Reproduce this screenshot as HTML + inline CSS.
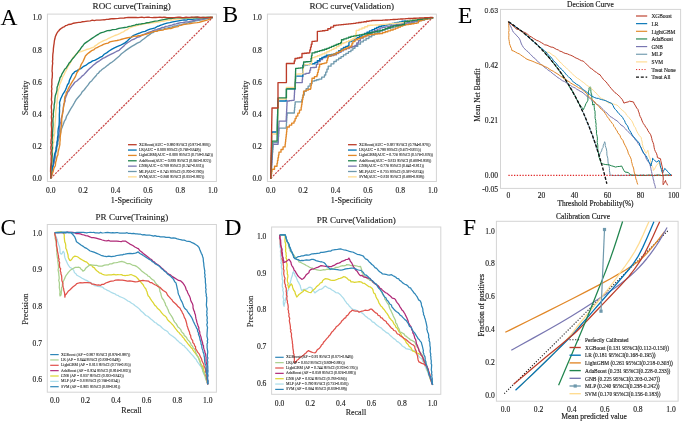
<!DOCTYPE html><html><head><meta charset="utf-8"><style>html,body{margin:0;padding:0;background:#fff;overflow:hidden}svg{display:block;will-change:transform}</style></head><body>
<svg width="685" height="423" viewBox="0 0 685 423">
<rect width="685" height="423" fill="#fff"/>
<text x="0.50" y="17.20" font-size="23.5" text-anchor="start" dominant-baseline="central" fill="#000" font-family="&quot;Liberation Serif&quot;, serif" stroke="#000" stroke-width="0.05">A</text>
<text x="222.50" y="13.80" font-size="23.5" text-anchor="start" dominant-baseline="central" fill="#000" font-family="&quot;Liberation Serif&quot;, serif" stroke="#000" stroke-width="0.05">B</text>
<text x="458.00" y="15.00" font-size="23.5" text-anchor="start" dominant-baseline="central" fill="#000" font-family="&quot;Liberation Serif&quot;, serif" stroke="#000" stroke-width="0.05">E</text>
<text x="0.50" y="226.70" font-size="23.5" text-anchor="start" dominant-baseline="central" fill="#000" font-family="&quot;Liberation Serif&quot;, serif" stroke="#000" stroke-width="0.05">C</text>
<text x="224.50" y="227.00" font-size="23.5" text-anchor="start" dominant-baseline="central" fill="#000" font-family="&quot;Liberation Serif&quot;, serif" stroke="#000" stroke-width="0.05">D</text>
<text x="463.00" y="226.80" font-size="23.5" text-anchor="start" dominant-baseline="central" fill="#000" font-family="&quot;Liberation Serif&quot;, serif" stroke="#000" stroke-width="0.05">F</text>
<rect x="47.40" y="14.10" width="169.00" height="167.40" fill="none" stroke="#d4d4d4" stroke-width="1.0"/>
<text x="131.70" y="6.30" font-size="9.1" text-anchor="middle" dominant-baseline="central" fill="#1a1a1a" font-family="&quot;Liberation Serif&quot;, serif" stroke="#1a1a1a" stroke-width="0.14">ROC curve(Training)</text>
<text x="50.70" y="190.00" font-size="7.6" text-anchor="middle" dominant-baseline="central" fill="#1a1a1a" font-family="&quot;Liberation Serif&quot;, serif" stroke="#1a1a1a" stroke-width="0.14">0.0</text>
<text x="41.90" y="178.80" font-size="7.6" text-anchor="end" dominant-baseline="central" fill="#1a1a1a" font-family="&quot;Liberation Serif&quot;, serif" stroke="#1a1a1a" stroke-width="0.14">0.0</text>
<text x="83.10" y="190.00" font-size="7.6" text-anchor="middle" dominant-baseline="central" fill="#1a1a1a" font-family="&quot;Liberation Serif&quot;, serif" stroke="#1a1a1a" stroke-width="0.14">0.2</text>
<text x="41.90" y="146.60" font-size="7.6" text-anchor="end" dominant-baseline="central" fill="#1a1a1a" font-family="&quot;Liberation Serif&quot;, serif" stroke="#1a1a1a" stroke-width="0.14">0.2</text>
<text x="115.50" y="190.00" font-size="7.6" text-anchor="middle" dominant-baseline="central" fill="#1a1a1a" font-family="&quot;Liberation Serif&quot;, serif" stroke="#1a1a1a" stroke-width="0.14">0.4</text>
<text x="41.90" y="114.40" font-size="7.6" text-anchor="end" dominant-baseline="central" fill="#1a1a1a" font-family="&quot;Liberation Serif&quot;, serif" stroke="#1a1a1a" stroke-width="0.14">0.4</text>
<text x="147.90" y="190.00" font-size="7.6" text-anchor="middle" dominant-baseline="central" fill="#1a1a1a" font-family="&quot;Liberation Serif&quot;, serif" stroke="#1a1a1a" stroke-width="0.14">0.6</text>
<text x="41.90" y="82.20" font-size="7.6" text-anchor="end" dominant-baseline="central" fill="#1a1a1a" font-family="&quot;Liberation Serif&quot;, serif" stroke="#1a1a1a" stroke-width="0.14">0.6</text>
<text x="180.30" y="190.00" font-size="7.6" text-anchor="middle" dominant-baseline="central" fill="#1a1a1a" font-family="&quot;Liberation Serif&quot;, serif" stroke="#1a1a1a" stroke-width="0.14">0.8</text>
<text x="41.90" y="50.00" font-size="7.6" text-anchor="end" dominant-baseline="central" fill="#1a1a1a" font-family="&quot;Liberation Serif&quot;, serif" stroke="#1a1a1a" stroke-width="0.14">0.8</text>
<text x="212.70" y="190.00" font-size="7.6" text-anchor="middle" dominant-baseline="central" fill="#1a1a1a" font-family="&quot;Liberation Serif&quot;, serif" stroke="#1a1a1a" stroke-width="0.14">1.0</text>
<text x="41.90" y="17.80" font-size="7.6" text-anchor="end" dominant-baseline="central" fill="#1a1a1a" font-family="&quot;Liberation Serif&quot;, serif" stroke="#1a1a1a" stroke-width="0.14">1.0</text>
<text x="131.70" y="200.40" font-size="8.1" text-anchor="middle" dominant-baseline="central" fill="#1a1a1a" font-family="&quot;Liberation Serif&quot;, serif" stroke="#1a1a1a" stroke-width="0.14">1-Specificity</text>
<text x="25.20" y="98.00" font-size="8.1" text-anchor="middle" dominant-baseline="central" fill="#1a1a1a" font-family="&quot;Liberation Serif&quot;, serif" transform="rotate(-90 25.20 98.00)" stroke="#1a1a1a" stroke-width="0.14">Sensitivity</text>
<path d="M50.70,178.40 L212.70,17.40" fill="none" stroke="#c84646" stroke-width="1.2" stroke-dasharray="2.1,1.1" stroke-linejoin="round" />
<path d="M50.70,178.40 L51.39,176.25 L51.62,174.02 L51.79,171.88 L52.21,169.86 L52.59,167.93 L53.20,166.10 L53.63,164.37 L54.18,162.67 L54.54,160.56 L54.96,158.63 L55.54,156.06 L55.55,154.03 L55.93,152.21 L56.77,149.83 L56.73,148.37 L57.10,145.91 L57.99,144.06 L57.87,142.27 L58.38,140.34 L58.86,138.77 L59.64,137.03 L59.77,135.19 L60.40,132.85 L60.89,130.81 L61.73,128.22 L62.25,127.26 L62.62,125.93 L63.22,124.42 L64.28,121.44 L65.69,119.22 L66.54,116.23 L67.82,114.10 L69.60,110.88 L70.87,108.57 L72.96,105.36 L74.59,102.46 L76.52,99.22 L78.85,96.52 L80.92,94.06 L82.27,91.70 L84.31,89.72 L86.27,87.11 L88.14,84.89 L89.63,82.56 L91.84,80.68 L93.18,78.90 L95.08,76.74 L96.28,75.47 L97.29,73.75 L98.30,73.29 L98.89,72.49 L99.51,71.75 L99.82,71.12 L100.76,70.77 L101.64,69.87 L102.67,68.95 L103.97,68.09 L104.93,67.45 L106.67,65.95 L108.19,64.90 L110.04,63.35 L112.20,62.02 L114.14,60.50 L116.41,58.50 L118.80,56.59 L121.21,53.94 L123.84,51.99 L126.24,50.14 L129.12,48.11 L131.77,46.43 L134.50,44.83 L137.26,43.18 L140.18,41.79 L142.56,39.81 L144.04,38.72 L145.94,37.20 L147.27,36.07 L148.94,35.05 L150.30,34.09 L151.60,32.92 L153.22,32.52 L154.88,31.30 L156.90,31.02 L158.44,29.94 L160.41,29.46 L161.94,29.09 L163.82,28.84 L165.67,28.12 L167.56,27.89 L169.47,27.44 L171.90,26.94 L173.99,26.00 L176.32,25.98 L178.16,25.10 L180.96,24.66 L183.62,24.06 L185.99,23.54 L188.56,22.68 L190.92,22.24 L193.28,21.51 L195.56,20.82 L197.36,20.68 L199.26,20.25 L201.62,19.81 L203.48,19.36 L204.85,18.99 L207.92,18.43 L210.65,17.63 L212.70,17.40" fill="none" stroke="#6F99AD" stroke-width="1.35" stroke-linejoin="round" />
<path d="M50.70,178.40 L51.34,176.24 L51.53,174.00 L51.66,171.84 L52.04,169.81 L52.38,167.87 L52.97,166.03 L53.35,164.29 L53.87,162.57 L54.18,160.45 L54.56,158.51 L55.09,155.93 L55.06,153.89 L55.40,152.06 L56.18,149.68 L56.09,148.23 L56.41,145.77 L57.24,143.92 L57.07,142.14 L57.49,140.23 L57.89,138.70 L58.58,137.00 L58.64,135.19 L59.07,133.00 L59.37,131.11 L59.77,128.95 L59.80,128.47 L59.64,127.62 L59.66,126.51 L60.13,123.82 L60.95,121.83 L61.15,119.04 L61.65,117.15 L62.47,114.26 L62.55,112.37 L63.23,109.64 L63.34,107.25 L63.73,104.58 L64.60,102.48 L65.18,100.72 L64.97,99.20 L65.49,98.05 L66.11,96.14 L66.92,94.39 L67.61,92.28 L69.19,90.45 L70.13,88.56 L71.90,86.14 L73.28,84.49 L74.89,82.21 L76.91,81.02 L78.72,79.36 L80.59,77.69 L82.00,76.12 L83.94,74.67 L85.88,72.49 L87.89,70.30 L89.99,68.34 L91.48,66.96 L93.49,65.07 L95.11,63.85 L96.82,62.37 L98.61,61.39 L99.89,60.50 L100.99,59.64 L101.72,59.35 L102.33,58.50 L103.36,58.21 L104.69,57.55 L107.28,56.12 L110.19,54.66 L113.37,53.10 L116.42,51.48 L119.12,50.32 L120.67,48.85 L122.39,47.34 L124.39,45.40 L125.85,43.89 L127.94,42.54 L129.94,41.25 L132.03,39.80 L134.50,39.00 L137.12,37.39 L140.11,36.52 L142.71,34.84 L145.77,33.61 L148.51,32.50 L151.65,31.45 L154.94,29.97 L156.59,29.58 L158.25,28.97 L160.40,28.38 L162.21,27.34 L164.11,27.32 L165.52,26.44 L167.78,26.05 L169.89,25.50 L171.79,25.06 L173.88,24.28 L176.11,23.91 L178.33,23.25 L180.97,22.59 L183.13,22.46 L185.66,22.02 L188.67,21.56 L191.17,21.09 L193.19,20.69 L195.24,20.43 L197.49,19.80 L199.28,19.42 L201.75,19.14 L203.16,18.82 L205.24,18.69 L208.09,18.02 L210.76,17.88 L212.70,17.40" fill="none" stroke="#7876B1" stroke-width="1.35" stroke-linejoin="round" />
<path d="M50.70,178.40 L51.41,175.45 L51.76,173.50 L51.78,171.92 L52.09,169.42 L52.34,167.43 L53.21,164.75 L53.07,162.72 L53.63,161.07 L53.85,159.13 L54.29,156.16 L54.76,154.10 L55.53,152.12 L56.21,149.92 L56.28,147.79 L57.02,145.28 L56.97,142.92 L57.52,140.31 L57.50,137.92 L58.04,134.98 L57.99,131.66 L58.33,128.37 L59.08,125.27 L59.29,121.44 L59.33,118.42 L59.31,114.82 L59.57,111.41 L59.46,108.17 L59.76,105.28 L59.53,102.44 L60.17,100.60 L60.57,99.30 L60.95,98.24 L61.59,96.94 L62.15,95.74 L62.94,94.05 L64.43,91.95 L65.54,89.73 L66.48,87.43 L67.49,84.76 L68.84,82.99 L69.46,80.26 L70.46,78.11 L71.46,76.02 L72.45,74.01 L73.93,72.85 L74.51,71.80 L75.87,71.24 L76.86,70.90 L78.45,69.61 L80.79,68.65 L83.11,66.66 L85.64,65.47 L88.23,63.41 L90.81,62.07 L92.57,60.91 L94.60,60.42 L96.16,59.57 L97.86,58.72 L99.95,57.36 L102.27,56.35 L104.17,54.28 L106.97,52.59 L109.08,51.02 L112.06,49.19 L114.41,47.88 L117.10,46.59 L120.04,45.48 L122.62,44.11 L124.89,42.83 L126.92,41.35 L128.74,39.44 L130.08,38.29 L131.88,36.63 L133.73,35.41 L135.52,34.56 L137.29,33.86 L139.01,33.26 L140.71,32.55 L142.56,31.97 L145.08,31.33 L147.47,30.05 L150.09,29.18 L152.42,28.53 L155.06,27.84 L157.26,26.46 L159.10,25.98 L160.86,25.11 L162.40,24.63 L164.44,23.78 L166.97,23.10 L169.76,22.60 L172.82,21.88 L175.47,21.35 L178.54,20.84 L182.28,20.16 L184.30,19.90 L186.39,20.14 L188.25,19.45 L189.96,19.11 L191.91,19.36 L194.20,19.14 L195.76,18.76 L197.76,18.62 L201.22,17.92 L204.95,17.98 L207.81,17.60 L210.87,17.79 L212.70,17.40" fill="none" stroke="#0072B5" stroke-width="1.35" stroke-linejoin="round" />
<path d="M50.70,178.40 L51.58,176.75 L51.96,174.69 L53.09,171.81 L53.87,168.41 L55.35,165.71 L55.66,162.19 L56.35,160.22 L56.61,158.44 L57.07,156.48 L57.94,154.69 L57.98,152.89 L58.26,151.36 L59.13,147.91 L59.86,144.68 L59.89,142.26 L60.21,139.86 L60.18,137.16 L60.44,135.10 L60.92,132.47 L60.86,130.33 L61.03,127.75 L61.43,125.63 L61.72,123.11 L61.66,120.15 L61.93,117.53 L62.39,114.36 L63.04,111.39 L63.32,108.51 L63.79,105.72 L64.29,102.67 L64.54,99.58 L64.84,96.91 L66.04,94.50 L66.30,92.40 L67.46,90.83 L68.15,89.03 L69.00,87.37 L70.40,84.79 L71.70,82.63 L73.74,79.39 L75.51,76.38 L76.69,73.21 L78.36,70.66 L80.08,67.81 L81.26,64.30 L83.02,61.49 L84.19,58.89 L85.39,56.09 L87.06,54.34 L88.78,52.84 L90.71,51.40 L92.28,50.29 L94.11,49.55 L95.52,48.14 L96.40,47.96 L97.62,47.36 L98.37,46.80 L100.22,46.00 L101.67,45.35 L103.48,44.31 L105.62,43.72 L107.99,43.08 L109.88,41.91 L112.03,41.38 L114.76,40.86 L116.97,40.48 L119.70,39.91 L121.72,39.25 L124.00,38.65 L126.67,38.01 L129.61,37.33 L131.49,37.07 L133.42,36.42 L135.31,36.08 L136.31,36.16 L137.02,36.37 L138.18,35.70 L140.01,35.55 L142.53,35.00 L145.35,34.34 L148.40,33.52 L151.74,32.18 L154.82,31.32 L156.87,31.42 L158.54,30.50 L160.52,30.39 L162.94,30.12 L164.50,29.27 L166.77,29.02 L168.93,28.60 L170.80,28.50 L174.05,27.25 L176.27,26.85 L178.11,26.64 L179.07,25.65 L181.00,25.39 L183.17,24.52 L186.49,24.06 L188.45,23.81 L190.61,23.46 L192.88,23.11 L194.66,22.84 L197.12,22.67 L199.01,22.33 L202.62,21.26 L205.17,20.59 L207.72,19.94 L209.47,19.03 L211.39,17.66 L212.70,17.40" fill="none" stroke="#E18727" stroke-width="1.35" stroke-linejoin="round" />
<path d="M50.70,178.40 L51.16,175.03 L51.10,172.55 L50.98,170.16 L51.13,168.18 L51.24,166.28 L51.59,164.49 L51.76,162.79 L52.06,161.11 L52.10,159.25 L52.28,156.97 L52.62,154.05 L52.40,152.00 L52.56,150.16 L53.22,147.70 L53.00,146.19 L53.19,143.75 L53.90,141.94 L53.59,140.27 L53.90,138.33 L54.32,135.12 L54.90,132.08 L54.73,129.27 L54.92,126.38 L54.98,123.71 L55.32,120.45 L55.59,117.46 L55.72,113.71 L55.71,112.15 L55.96,109.77 L56.50,108.26 L56.38,106.06 L56.58,104.81 L57.12,102.51 L57.15,99.51 L57.75,95.79 L57.87,92.37 L58.14,90.24 L58.88,88.48 L59.56,86.71 L59.50,84.93 L60.38,83.25 L61.23,80.85 L62.24,78.63 L62.88,76.29 L64.32,74.39 L64.97,72.47 L66.32,70.11 L67.23,68.35 L68.16,66.03 L69.39,64.63 L70.97,61.59 L72.42,59.00 L73.34,57.01 L74.80,55.65 L76.29,53.94 L77.94,52.60 L79.76,51.81 L81.08,51.62 L82.98,50.79 L84.54,50.40 L86.37,49.52 L88.51,49.00 L90.32,48.44 L92.23,47.60 L93.90,47.03 L95.15,45.78 L96.31,45.18 L97.14,44.50 L98.56,43.40 L99.99,42.48 L101.76,41.56 L103.70,40.59 L105.87,39.96 L107.55,38.96 L109.78,37.95 L112.54,36.52 L114.83,35.50 L117.50,34.58 L119.71,33.64 L121.66,32.47 L123.57,31.86 L125.31,30.38 L127.24,29.66 L128.78,28.19 L130.89,27.31 L132.80,26.66 L135.14,26.16 L137.55,25.25 L139.94,24.90 L142.34,24.36 L144.90,23.95 L146.91,23.19 L149.08,23.48 L151.27,22.84 L155.08,22.53 L157.56,22.19 L159.71,21.92 L161.56,21.39 L163.34,21.23 L165.11,20.77 L167.25,20.28 L168.93,20.33 L170.92,20.03 L173.44,19.74 L175.58,19.40 L177.23,19.14 L179.13,19.03 L181.24,18.56 L183.12,18.30 L185.77,18.22 L187.49,18.07 L189.88,18.10 L191.83,17.87 L194.15,18.08 L196.61,17.71 L198.60,17.53 L201.10,17.97 L202.76,17.56 L205.12,17.30 L206.72,17.55 L208.78,17.70 L210.57,17.36 L212.70,17.40" fill="none" stroke="#FFDC91" stroke-width="1.35" stroke-linejoin="round" />
<path d="M50.70,178.40 L51.14,175.03 L51.07,172.55 L50.93,170.16 L51.07,168.18 L51.17,166.28 L51.51,164.49 L51.64,162.79 L51.91,161.11 L51.93,159.25 L52.03,156.97 L52.29,154.05 L51.95,152.05 L51.97,150.26 L52.44,147.90 L52.03,146.48 L52.03,144.12 L52.54,142.38 L52.05,140.69 L52.19,138.72 L52.33,137.05 L52.75,135.21 L52.54,133.14 L52.72,130.86 L52.76,128.81 L52.98,126.45 L53.06,124.68 L52.95,122.36 L52.86,120.59 L53.01,118.01 L53.47,116.45 L53.26,114.19 L53.52,111.32 L54.15,107.65 L54.12,105.16 L54.75,101.97 L54.86,99.11 L55.29,95.81 L56.23,92.92 L56.98,90.16 L57.05,87.51 L57.85,85.29 L58.67,82.48 L59.51,80.11 L60.03,77.76 L61.27,75.99 L61.74,74.37 L62.95,72.39 L63.71,71.23 L64.65,69.32 L65.93,68.33 L66.99,66.71 L68.15,64.95 L68.92,63.35 L70.25,62.05 L71.51,60.19 L72.81,58.43 L74.20,56.92 L75.03,55.86 L76.40,54.13 L77.37,52.95 L78.52,51.34 L79.77,50.05 L80.61,48.70 L81.69,47.06 L82.93,45.70 L84.40,43.67 L86.59,42.15 L88.99,40.44 L91.98,38.36 L94.49,36.70 L96.47,35.43 L97.63,34.61 L98.31,34.53 L98.20,34.27 L98.74,34.01 L100.20,33.17 L101.56,32.57 L103.56,32.03 L105.43,31.46 L107.42,30.67 L109.82,30.52 L112.57,29.57 L115.93,29.37 L118.92,28.38 L122.17,27.85 L124.64,27.46 L127.00,27.13 L129.11,26.34 L130.99,26.06 L132.78,25.58 L134.93,25.17 L136.57,24.37 L138.04,24.64 L138.97,24.08 L140.79,23.98 L142.77,23.66 L144.69,23.37 L146.96,22.74 L149.36,22.46 L151.98,21.83 L155.09,21.14 L157.79,20.87 L160.84,20.16 L164.73,19.41 L166.86,19.02 L168.51,18.69 L170.99,18.55 L173.67,18.03 L175.93,17.87 L178.86,17.82 L180.86,17.70 L183.38,17.82 L185.28,17.63 L187.55,17.88 L189.96,17.55 L191.58,17.42 L193.73,17.89 L195.03,17.52 L197.34,17.28 L198.90,17.55 L201.09,17.72 L202.91,17.42 L204.78,17.54 L207.02,17.49 L208.74,17.17 L210.98,17.50 L212.70,17.40" fill="none" stroke="#20854E" stroke-width="1.35" stroke-linejoin="round" />
<path d="M50.70,178.40 L50.98,176.12 L50.80,173.76 L50.56,171.49 L50.62,169.39 L50.64,167.38 L50.91,165.47 L50.97,163.66 L51.17,161.88 L51.12,160.01 L51.13,158.31 L51.30,155.98 L50.91,154.19 L50.88,152.61 L51.33,150.32 L50.91,148.98 L50.89,146.64 L51.39,144.91 L50.89,143.24 L51.02,141.28 L51.12,139.69 L51.52,137.90 L51.27,136.00 L51.41,133.89 L51.41,132.07 L51.60,129.95 L51.62,128.44 L51.45,126.37 L51.29,124.77 L51.38,122.37 L51.74,120.51 L51.44,117.96 L51.43,116.33 L51.77,113.82 L51.40,112.32 L51.65,110.03 L51.33,108.11 L51.30,105.78 L51.72,103.83 L51.91,101.85 L51.38,99.87 L51.53,98.17 L51.66,95.58 L51.76,93.32 L51.48,90.94 L51.91,88.93 L51.55,86.90 L51.91,84.29 L51.82,82.31 L51.88,79.47 L52.23,77.55 L52.31,75.28 L52.40,73.01 L52.02,70.97 L52.17,69.54 L52.26,67.52 L52.40,65.51 L52.70,63.24 L52.46,61.34 L52.76,59.12 L52.67,57.46 L52.86,54.06 L53.27,51.31 L53.39,48.59 L53.75,45.67 L54.12,43.28 L54.43,40.46 L54.96,38.54 L55.28,36.78 L56.12,34.89 L56.74,33.48 L57.42,32.31 L58.14,31.27 L59.02,30.68 L59.38,29.84 L60.32,29.13 L61.73,28.08 L62.62,27.46 L63.95,26.93 L64.86,26.36 L65.66,25.59 L66.84,25.45 L68.41,24.50 L70.78,24.29 L73.43,23.23 L77.09,22.60 L78.72,22.43 L80.61,22.30 L82.44,21.73 L84.22,21.64 L87.42,21.14 L90.29,20.83 L92.29,20.21 L94.30,20.65 L96.28,20.20 L100.00,20.12 L102.47,19.92 L104.61,19.79 L106.45,19.37 L108.21,19.32 L109.97,18.98 L112.11,18.61 L113.78,18.78 L115.77,18.60 L118.31,18.42 L120.47,18.20 L122.14,18.05 L124.10,18.04 L126.26,17.67 L128.20,17.50 L130.69,17.49 L132.25,17.42 L134.47,17.52 L136.03,17.36 L137.96,17.63 L140.03,17.32 L141.78,17.20 L144.05,17.69 L145.47,17.33 L148.14,17.12 L150.05,17.41 L152.42,17.60 L154.14,17.32 L155.91,17.46 L158.05,17.43 L159.83,17.12 L162.20,17.47 L164.03,17.16 L166.33,17.52 L168.05,17.65 L169.91,17.56 L171.82,17.55 L174.38,17.66 L176.24,17.33 L178.15,17.24 L179.98,17.24 L182.35,17.57 L184.39,17.46 L186.14,17.24 L187.98,17.30 L190.12,17.36 L192.25,17.10 L194.53,17.16 L196.40,17.09 L198.59,17.28 L200.64,17.49 L203.32,17.31 L205.38,17.66 L207.00,17.37 L209.08,17.65 L210.66,17.16 L212.70,17.40" fill="none" stroke="#BC3C29" stroke-width="1.35" stroke-linejoin="round" />
<path d="M128.00,144.70 L136.70,144.70" fill="none" stroke="#BC3C29" stroke-width="1.3" stroke-linejoin="round" />
<text x="138.90" y="144.70" font-size="3.83" text-anchor="start" dominant-baseline="central" fill="#1a1a1a" font-family="&quot;Liberation Serif&quot;, serif" stroke="#1a1a1a" stroke-width="0.07">XGBoost(AUC = 0.980 95%CI (0.973-0.988))</text>
<path d="M128.00,150.06 L136.70,150.06" fill="none" stroke="#0072B5" stroke-width="1.3" stroke-linejoin="round" />
<text x="138.90" y="150.06" font-size="3.83" text-anchor="start" dominant-baseline="central" fill="#1a1a1a" font-family="&quot;Liberation Serif&quot;, serif" stroke="#1a1a1a" stroke-width="0.07">LR(AUC = 0.808 95%CI (0.768-0.849))</text>
<path d="M128.00,155.42 L136.70,155.42" fill="none" stroke="#E18727" stroke-width="1.3" stroke-linejoin="round" />
<text x="138.90" y="155.42" font-size="3.83" text-anchor="start" dominant-baseline="central" fill="#1a1a1a" font-family="&quot;Liberation Serif&quot;, serif" stroke="#1a1a1a" stroke-width="0.07">LightGBM(AUC = 0.808 95%CI (0.759-0.842))</text>
<path d="M128.00,160.78 L136.70,160.78" fill="none" stroke="#20854E" stroke-width="1.3" stroke-linejoin="round" />
<text x="138.90" y="160.78" font-size="3.83" text-anchor="start" dominant-baseline="central" fill="#1a1a1a" font-family="&quot;Liberation Serif&quot;, serif" stroke="#1a1a1a" stroke-width="0.07">AdaBoost(AUC = 0.893 95%CI (0.863-0.922))</text>
<path d="M128.00,166.14 L136.70,166.14" fill="none" stroke="#7876B1" stroke-width="1.3" stroke-linejoin="round" />
<text x="138.90" y="166.14" font-size="3.83" text-anchor="start" dominant-baseline="central" fill="#1a1a1a" font-family="&quot;Liberation Serif&quot;, serif" stroke="#1a1a1a" stroke-width="0.07">GNB(AUC = 0.789 95%CI (0.747-0.831))</text>
<path d="M128.00,171.50 L136.70,171.50" fill="none" stroke="#6F99AD" stroke-width="1.3" stroke-linejoin="round" />
<text x="138.90" y="171.50" font-size="3.83" text-anchor="start" dominant-baseline="central" fill="#1a1a1a" font-family="&quot;Liberation Serif&quot;, serif" stroke="#1a1a1a" stroke-width="0.07">MLP(AUC = 0.745 95%CI (0.700-0.790))</text>
<path d="M128.00,176.86 L136.70,176.86" fill="none" stroke="#FFDC91" stroke-width="1.3" stroke-linejoin="round" />
<text x="138.90" y="176.86" font-size="3.83" text-anchor="start" dominant-baseline="central" fill="#1a1a1a" font-family="&quot;Liberation Serif&quot;, serif" stroke="#1a1a1a" stroke-width="0.07">SVM(AUC = 0.868 95%CI (0.833-0.902))</text>
<rect x="267.40" y="14.10" width="169.00" height="167.40" fill="none" stroke="#d4d4d4" stroke-width="1.0"/>
<text x="351.70" y="6.30" font-size="9.1" text-anchor="middle" dominant-baseline="central" fill="#1a1a1a" font-family="&quot;Liberation Serif&quot;, serif" stroke="#1a1a1a" stroke-width="0.14">ROC curve(Validation)</text>
<text x="270.70" y="190.00" font-size="7.6" text-anchor="middle" dominant-baseline="central" fill="#1a1a1a" font-family="&quot;Liberation Serif&quot;, serif" stroke="#1a1a1a" stroke-width="0.14">0.0</text>
<text x="261.90" y="178.80" font-size="7.6" text-anchor="end" dominant-baseline="central" fill="#1a1a1a" font-family="&quot;Liberation Serif&quot;, serif" stroke="#1a1a1a" stroke-width="0.14">0.0</text>
<text x="303.10" y="190.00" font-size="7.6" text-anchor="middle" dominant-baseline="central" fill="#1a1a1a" font-family="&quot;Liberation Serif&quot;, serif" stroke="#1a1a1a" stroke-width="0.14">0.2</text>
<text x="261.90" y="146.60" font-size="7.6" text-anchor="end" dominant-baseline="central" fill="#1a1a1a" font-family="&quot;Liberation Serif&quot;, serif" stroke="#1a1a1a" stroke-width="0.14">0.2</text>
<text x="335.50" y="190.00" font-size="7.6" text-anchor="middle" dominant-baseline="central" fill="#1a1a1a" font-family="&quot;Liberation Serif&quot;, serif" stroke="#1a1a1a" stroke-width="0.14">0.4</text>
<text x="261.90" y="114.40" font-size="7.6" text-anchor="end" dominant-baseline="central" fill="#1a1a1a" font-family="&quot;Liberation Serif&quot;, serif" stroke="#1a1a1a" stroke-width="0.14">0.4</text>
<text x="367.90" y="190.00" font-size="7.6" text-anchor="middle" dominant-baseline="central" fill="#1a1a1a" font-family="&quot;Liberation Serif&quot;, serif" stroke="#1a1a1a" stroke-width="0.14">0.6</text>
<text x="261.90" y="82.20" font-size="7.6" text-anchor="end" dominant-baseline="central" fill="#1a1a1a" font-family="&quot;Liberation Serif&quot;, serif" stroke="#1a1a1a" stroke-width="0.14">0.6</text>
<text x="400.30" y="190.00" font-size="7.6" text-anchor="middle" dominant-baseline="central" fill="#1a1a1a" font-family="&quot;Liberation Serif&quot;, serif" stroke="#1a1a1a" stroke-width="0.14">0.8</text>
<text x="261.90" y="50.00" font-size="7.6" text-anchor="end" dominant-baseline="central" fill="#1a1a1a" font-family="&quot;Liberation Serif&quot;, serif" stroke="#1a1a1a" stroke-width="0.14">0.8</text>
<text x="432.70" y="190.00" font-size="7.6" text-anchor="middle" dominant-baseline="central" fill="#1a1a1a" font-family="&quot;Liberation Serif&quot;, serif" stroke="#1a1a1a" stroke-width="0.14">1.0</text>
<text x="261.90" y="17.80" font-size="7.6" text-anchor="end" dominant-baseline="central" fill="#1a1a1a" font-family="&quot;Liberation Serif&quot;, serif" stroke="#1a1a1a" stroke-width="0.14">1.0</text>
<text x="351.70" y="200.40" font-size="8.1" text-anchor="middle" dominant-baseline="central" fill="#1a1a1a" font-family="&quot;Liberation Serif&quot;, serif" stroke="#1a1a1a" stroke-width="0.14">1-Specificity</text>
<text x="245.20" y="98.00" font-size="8.1" text-anchor="middle" dominant-baseline="central" fill="#1a1a1a" font-family="&quot;Liberation Serif&quot;, serif" transform="rotate(-90 245.20 98.00)" stroke="#1a1a1a" stroke-width="0.14">Sensitivity</text>
<path d="M270.70,178.40 L432.70,17.40" fill="none" stroke="#c84646" stroke-width="1.2" stroke-dasharray="2.1,1.1" stroke-linejoin="round" />
<path d="M270.70,178.40 L270.86,178.40 L270.86,175.82 L271.02,175.82 L271.02,173.25 L271.19,173.25 L271.19,170.67 L271.35,170.67 L271.35,168.10 L271.51,168.10 L271.51,165.52 L271.67,165.52 L271.67,162.94 L271.83,162.94 L271.83,160.37 L272.00,160.37 L272.00,157.79 L272.16,157.79 L272.16,155.22 L272.32,155.22 L272.32,152.64 L272.48,152.64 L272.48,150.06 L272.64,150.06 L272.64,147.49 L272.81,147.49 L272.81,144.91 L272.97,144.91 L272.97,142.34 L277.99,142.34 L278.18,142.34 L278.18,139.50 L278.38,139.50 L278.38,136.67 L278.57,136.67 L278.57,133.84 L278.77,133.84 L278.77,131.00 L278.96,131.00 L278.96,128.17 L286.09,128.17 L286.25,128.17 L286.25,125.65 L286.41,125.65 L286.41,123.12 L286.58,123.12 L286.58,120.60 L286.74,120.60 L286.74,118.08 L286.90,118.08 L286.90,115.56 L287.06,115.56 L287.06,113.03 L294.03,113.03 L294.31,113.03 L294.31,110.26 L294.59,110.26 L294.59,107.48 L294.88,107.48 L294.88,104.70 L295.16,104.70 L295.16,101.93 L301.16,101.93 L301.80,101.93 L301.80,99.62 L302.45,99.62 L302.45,97.31 L303.10,97.31 L303.10,95.00 L304.23,95.00 L304.23,91.14 L306.18,91.14 L306.18,88.64 L308.12,88.64 L308.12,86.15 L310.07,86.15 L310.07,83.65 L312.01,83.65 L312.01,81.16 L314.33,81.16 L314.33,80.46 L316.65,80.46 L316.65,79.76 L318.98,79.76 L318.98,79.06 L321.73,79.06 L321.73,77.05 L324.48,77.05 L324.48,75.04 L325.73,75.04 L325.73,72.09 L326.97,72.09 L326.97,69.13 L328.21,69.13 L328.21,66.18 L331.04,66.18 L331.04,63.85 L333.88,63.85 L333.88,61.51 L336.27,61.51 L336.27,59.86 L338.66,59.86 L338.66,58.21 L341.05,58.21 L341.05,56.56 L343.44,56.56 L343.44,54.91 L345.92,54.91 L345.92,53.30 L348.41,53.30 L348.41,51.69 L350.89,51.69 L350.89,50.08 L352.91,50.08 L352.91,48.23 L354.94,48.23 L354.94,46.38 L357.69,46.38 L357.69,44.13 L360.45,44.13 L360.45,41.87 L363.27,41.87 L363.27,40.17 L366.09,40.17 L366.09,38.46 L368.90,38.46 L368.90,36.75 L371.72,36.75 L371.72,35.05 L374.54,35.05 L374.54,33.34 L377.17,33.34 L377.17,32.25 L379.81,32.25 L379.81,31.17 L382.44,31.17 L382.44,30.08 L385.07,30.08 L385.07,28.99 L387.72,28.99 L387.72,28.35 L390.36,28.35 L390.36,27.70 L393.01,27.70 L393.01,27.06 L395.66,27.06 L395.66,26.42 L398.30,26.42 L398.30,25.77 L400.95,25.77 L400.95,25.13 L403.59,25.13 L403.59,24.48 L406.24,24.48 L406.24,23.84 L408.89,23.84 L408.89,23.20 L411.53,23.20 L411.53,22.55 L414.18,22.55 L414.18,21.91 L416.82,21.91 L416.82,21.26 L419.47,21.26 L419.47,20.62 L422.12,20.62 L422.12,19.98 L424.76,19.98 L424.76,19.33 L427.41,19.33 L427.41,18.69 L430.05,18.69 L430.05,18.04 L432.70,18.04 L432.70,17.40" fill="none" stroke="#6F99AD" stroke-width="1.35" stroke-linejoin="round" />
<path d="M270.70,178.40 L270.87,178.40 L270.87,175.77 L271.05,175.77 L271.05,173.15 L271.22,173.15 L271.22,170.52 L271.40,170.52 L271.40,167.90 L271.57,167.90 L271.57,165.27 L271.75,165.27 L271.75,162.65 L271.92,162.65 L271.92,160.02 L272.10,160.02 L272.10,157.40 L272.27,157.40 L272.27,154.77 L272.44,154.77 L272.44,152.14 L272.62,152.14 L272.62,149.52 L272.79,149.52 L272.79,146.89 L272.97,146.89 L272.97,144.27 L277.99,144.27 L278.10,144.27 L278.10,141.69 L278.21,141.69 L278.21,139.12 L278.31,139.12 L278.31,136.54 L278.42,136.54 L278.42,133.96 L278.53,133.96 L278.53,131.39 L278.64,131.39 L278.64,128.81 L278.75,128.81 L278.75,126.24 L278.85,126.24 L278.85,123.66 L278.96,123.66 L278.96,121.08 L286.09,121.08 L286.21,121.08 L286.21,118.57 L286.33,118.57 L286.33,116.05 L286.45,116.05 L286.45,113.54 L286.58,113.54 L286.58,111.02 L286.70,111.02 L286.70,108.51 L286.82,108.51 L286.82,105.99 L286.94,105.99 L286.94,103.47 L287.06,103.47 L287.06,100.96 L289.38,100.96 L289.38,100.64 L291.71,100.64 L291.71,100.31 L294.03,100.31 L294.03,99.99 L294.17,99.99 L294.17,97.51 L294.31,97.51 L294.31,95.03 L294.44,95.03 L294.44,92.54 L294.58,92.54 L294.58,90.06 L294.72,90.06 L294.72,87.57 L294.86,87.57 L294.86,85.09 L295.00,85.09 L295.00,82.61 L301.97,82.61 L302.24,82.61 L302.24,79.76 L302.51,79.76 L302.51,76.92 L302.78,76.92 L302.78,74.07 L305.94,74.07 L305.94,73.35 L309.09,73.35 L309.09,72.62 L309.82,72.62 L309.82,70.13 L310.55,70.13 L310.55,67.63 L312.74,67.63 L312.74,67.47 L314.93,67.47 L314.93,67.31 L316.38,67.31 L316.38,64.41 L317.84,64.41 L317.84,61.51 L320.19,61.51 L320.19,59.58 L322.54,59.58 L322.54,57.65 L325.38,57.65 L325.38,56.97 L328.21,56.97 L328.21,56.28 L331.05,56.28 L331.05,55.60 L333.88,55.60 L333.88,54.91 L336.27,54.91 L336.27,53.58 L338.66,53.58 L338.66,52.26 L341.05,52.26 L341.05,50.93 L343.44,50.93 L343.44,49.60 L346.31,49.60 L346.31,48.55 L349.19,48.55 L349.19,47.51 L352.06,47.51 L352.06,46.46 L354.94,46.46 L354.94,45.41 L356.78,45.41 L356.78,43.00 L358.61,43.00 L358.61,40.58 L360.45,40.58 L360.45,38.17 L363.27,38.17 L363.27,36.62 L366.09,36.62 L366.09,35.08 L368.90,35.08 L368.90,33.53 L371.72,33.53 L371.72,31.99 L374.54,31.99 L374.54,30.44 L377.30,30.44 L377.30,29.15 L380.05,29.15 L380.05,27.87 L382.68,27.87 L382.68,27.34 L385.31,27.34 L385.31,26.82 L387.95,26.82 L387.95,26.30 L390.58,26.30 L390.58,25.77 L393.21,25.77 L393.21,25.25 L395.84,25.25 L395.84,24.73 L398.48,24.73 L398.48,24.20 L401.11,24.20 L401.11,23.68 L403.74,23.68 L403.74,23.16 L406.37,23.16 L406.37,22.63 L409.01,22.63 L409.01,22.11 L411.64,22.11 L411.64,21.59 L414.27,21.59 L414.27,21.06 L416.90,21.06 L416.90,20.54 L419.54,20.54 L419.54,20.02 L422.17,20.02 L422.17,19.49 L424.80,19.49 L424.80,18.97 L427.43,18.97 L427.43,18.45 L430.07,18.45 L430.07,17.92 L432.70,17.92 L432.70,17.40" fill="none" stroke="#7876B1" stroke-width="1.35" stroke-linejoin="round" />
<path d="M270.70,178.40 L270.77,178.40 L270.77,175.82 L270.84,175.82 L270.84,173.25 L270.92,173.25 L270.92,170.67 L270.99,170.67 L270.99,168.10 L271.06,168.10 L271.06,165.52 L271.13,165.52 L271.13,162.94 L271.20,162.94 L271.20,160.37 L271.28,160.37 L271.28,157.79 L271.35,157.79 L271.35,155.22 L271.42,155.22 L271.42,152.64 L271.49,152.64 L271.49,150.06 L271.56,150.06 L271.56,147.49 L271.64,147.49 L271.64,144.91 L271.71,144.91 L271.71,142.34 L271.78,142.34 L271.78,139.76 L271.85,139.76 L271.85,137.18 L271.92,137.18 L271.92,134.61 L272.00,134.61 L272.00,132.03 L277.02,132.03 L277.10,132.03 L277.10,129.44 L277.18,129.44 L277.18,126.85 L277.26,126.85 L277.26,124.26 L277.34,124.26 L277.34,121.67 L277.42,121.67 L277.42,119.08 L277.50,119.08 L277.50,116.50 L277.59,116.50 L277.59,113.91 L277.67,113.91 L277.67,111.32 L277.75,111.32 L277.75,108.73 L277.83,108.73 L277.83,106.14 L277.91,106.14 L277.91,103.55 L277.99,103.55 L277.99,100.96 L286.09,100.96 L286.15,100.96 L286.15,98.54 L286.22,98.54 L286.22,96.13 L286.28,96.13 L286.28,93.71 L286.35,93.71 L286.35,91.30 L286.41,91.30 L286.41,88.88 L295.00,88.88 L295.13,88.88 L295.13,86.34 L295.26,86.34 L295.26,83.80 L295.39,83.80 L295.39,81.25 L295.52,81.25 L295.52,78.71 L295.65,78.71 L295.65,76.16 L302.78,76.17 L302.78,65.54 L305.08,65.54 L305.08,65.10 L307.39,65.10 L307.39,64.65 L309.70,64.65 L309.70,64.21 L312.01,64.21 L312.01,63.77 L314.93,63.77 L314.93,62.48 L317.27,62.48 L317.27,60.55 L319.62,60.55 L319.62,58.62 L321.84,58.62 L321.84,57.49 L324.05,57.49 L324.05,56.36 L326.27,56.36 L326.27,55.23 L328.80,55.23 L328.80,54.81 L331.34,54.81 L331.34,54.38 L333.88,54.38 L333.88,53.95 L336.27,53.95 L336.27,52.30 L338.66,52.30 L338.66,50.65 L341.05,50.65 L341.05,49.00 L343.44,49.00 L343.44,47.35 L345.79,47.35 L345.79,46.38 L348.14,46.38 L348.14,45.41 L348.95,45.41 L348.95,41.55 L351.94,41.55 L351.94,40.18 L354.94,40.18 L354.94,38.81 L357.26,38.81 L357.26,37.47 L359.58,37.47 L359.58,36.13 L361.91,36.13 L361.91,34.79 L364.43,34.79 L364.43,33.50 L366.96,33.50 L366.96,32.21 L369.49,32.21 L369.49,30.92 L372.01,30.92 L372.01,29.64 L374.54,29.64 L374.54,28.35 L376.73,28.35 L376.73,27.30 L378.92,27.30 L378.92,26.26 L381.62,26.26 L381.62,25.72 L384.32,25.72 L384.32,25.18 L387.02,25.18 L387.02,24.65 L389.50,24.65 L389.50,24.08 L391.98,24.08 L391.98,23.52 L394.47,23.52 L394.47,22.95 L396.95,22.95 L396.95,22.39 L399.44,22.39 L399.44,21.83 L401.92,21.83 L401.92,21.26 L404.48,21.26 L404.48,20.94 L407.05,20.94 L407.05,20.62 L409.61,20.62 L409.61,20.30 L412.18,20.30 L412.18,19.98 L414.74,19.98 L414.74,19.65 L417.31,19.65 L417.31,19.33 L419.87,19.33 L419.87,19.01 L422.44,19.01 L422.44,18.69 L425.00,18.69 L425.00,18.37 L427.57,18.37 L427.57,18.04 L430.13,18.04 L430.13,17.72 L432.70,17.72 L432.70,17.40" fill="none" stroke="#0072B5" stroke-width="1.35" stroke-linejoin="round" />
<path d="M270.70,178.40 L271.02,178.40 L271.02,176.11 L271.35,176.11 L271.35,173.81 L271.67,173.81 L271.67,171.52 L272.00,171.52 L272.00,169.22 L274.51,169.22 L274.51,166.24 L277.02,166.24 L277.02,163.27 L277.50,163.27 L277.50,160.49 L277.99,160.49 L277.99,157.71 L278.48,157.71 L278.48,154.93 L278.96,154.93 L278.96,152.16 L281.01,152.16 L281.01,149.53 L283.07,149.53 L283.07,146.90 L285.12,146.90 L285.12,144.27 L285.40,144.27 L285.40,141.81 L285.67,141.81 L285.67,139.35 L285.95,139.35 L285.95,136.88 L286.23,136.88 L286.23,134.42 L286.51,134.42 L286.51,131.96 L286.78,131.96 L286.78,129.50 L287.06,129.50 L287.06,127.04 L289.38,127.04 L289.38,125.06 L291.71,125.06 L291.71,123.07 L294.03,123.07 L294.03,121.08 L295.08,121.08 L295.08,118.59 L296.13,118.59 L296.13,116.09 L297.81,116.09 L297.81,113.09 L299.48,113.09 L299.48,110.08 L301.16,110.08 L301.16,107.08 L301.54,107.08 L301.54,104.66 L301.93,104.66 L301.93,102.25 L302.32,102.25 L302.32,99.83 L302.71,99.83 L302.71,97.42 L303.10,97.42 L303.10,95.00 L303.59,95.00 L303.59,91.14 L305.91,91.14 L305.91,90.17 L308.23,90.17 L308.23,89.21 L310.55,89.21 L310.55,88.24 L310.92,88.24 L310.92,85.74 L311.28,85.74 L311.28,83.25 L311.65,83.25 L311.65,80.75 L312.01,80.75 L312.01,78.26 L314.44,78.26 L314.44,76.65 L316.87,76.65 L316.87,75.04 L317.56,75.04 L317.56,72.34 L318.25,72.34 L318.25,69.64 L318.94,69.64 L318.94,66.95 L319.62,66.95 L319.62,64.25 L321.84,64.25 L321.84,63.66 L324.05,63.66 L324.05,63.07 L326.27,63.07 L326.27,62.48 L326.91,62.48 L326.91,60.28 L327.56,60.28 L327.56,58.08 L328.21,58.08 L328.21,55.88 L331.04,55.88 L331.04,54.91 L333.88,54.91 L333.88,53.95 L336.42,53.95 L336.42,52.66 L338.96,52.66 L338.96,51.37 L341.49,51.37 L341.49,50.08 L343.84,50.08 L343.84,49.04 L346.19,49.04 L346.19,47.99 L348.54,47.99 L348.54,46.94 L350.89,46.94 L350.89,45.90 L351.86,45.90 L351.86,43.72 L352.83,43.72 L352.83,41.55 L354.94,41.55 L354.94,39.78 L357.47,39.78 L357.47,38.78 L359.99,38.78 L359.99,37.78 L362.52,37.78 L362.52,36.78 L365.05,36.78 L365.05,35.79 L367.58,35.79 L367.58,34.79 L370.07,34.79 L370.07,34.53 L372.57,34.53 L372.57,34.27 L375.06,34.27 L375.06,34.02 L377.56,34.02 L377.56,33.76 L380.05,33.76 L380.05,33.50 L382.64,33.50 L382.64,32.61 L385.23,32.61 L385.23,31.73 L387.88,31.73 L387.88,30.87 L390.53,30.87 L390.53,30.01 L393.17,30.01 L393.17,29.15 L395.56,29.15 L395.56,28.15 L397.95,28.15 L397.95,27.14 L400.34,27.14 L400.34,26.13 L402.73,26.13 L402.73,25.13 L405.55,25.13 L405.55,24.68 L408.37,24.68 L408.37,24.23 L411.19,24.23 L411.19,23.78 L414.01,23.78 L414.01,23.32 L416.82,23.32 L416.82,22.87 L418.44,22.87 L418.44,20.78 L421.30,20.78 L421.30,20.10 L424.15,20.10 L424.15,19.43 L427.00,19.43 L427.00,18.75 L429.85,18.75 L429.85,18.08 L432.70,18.08 L432.70,17.40" fill="none" stroke="#E18727" stroke-width="1.35" stroke-linejoin="round" />
<path d="M270.70,178.40 L270.78,178.40 L270.78,175.79 L270.85,175.79 L270.85,173.17 L270.93,173.17 L270.93,170.56 L271.00,170.56 L271.00,167.94 L271.08,167.94 L271.08,165.33 L271.16,165.33 L271.16,162.72 L271.23,162.72 L271.23,160.10 L271.31,160.10 L271.31,157.49 L271.39,157.49 L271.39,154.88 L271.46,154.88 L271.46,152.26 L271.54,152.26 L271.54,149.65 L271.61,149.65 L271.61,147.03 L271.69,147.03 L271.69,144.42 L271.77,144.42 L271.77,141.81 L271.84,141.81 L271.84,139.19 L271.92,139.19 L271.92,136.58 L272.00,136.58 L272.00,133.96 L277.02,133.96 L277.13,133.96 L277.13,131.28 L277.24,131.28 L277.24,128.59 L277.35,128.59 L277.35,125.90 L277.47,125.90 L277.47,123.21 L277.58,123.21 L277.58,120.53 L277.69,120.53 L277.69,117.84 L277.80,117.84 L277.80,115.15 L277.92,115.15 L277.92,112.46 L278.03,112.46 L278.03,109.78 L278.14,109.78 L278.14,107.09 L278.25,107.09 L278.25,104.40 L278.36,104.40 L278.36,101.71 L278.48,101.71 L278.48,99.03 L286.41,99.03 L286.41,87.44 L295.00,87.44 L295.13,87.44 L295.13,84.76 L295.26,84.76 L295.26,82.09 L295.39,82.09 L295.39,79.42 L295.52,79.42 L295.52,76.74 L295.65,76.74 L295.65,74.07 L298.02,74.07 L298.02,73.96 L300.40,73.96 L300.40,73.86 L302.78,73.86 L302.78,73.75 L303.05,73.75 L303.05,70.80 L303.32,70.80 L303.32,67.85 L303.59,67.85 L303.59,64.89 L306.12,64.90 L306.12,64.63 L308.66,64.63 L308.66,64.36 L311.20,64.36 L311.20,64.09 L311.61,64.09 L311.61,60.87 L312.01,60.87 L312.01,57.65 L314.93,57.65 L314.93,56.68 L317.32,56.68 L317.32,55.76 L319.70,55.76 L319.70,54.83 L322.09,54.83 L322.09,53.91 L324.48,53.91 L324.48,52.98 L326.83,52.98 L326.83,51.77 L329.18,51.77 L329.18,50.57 L331.53,50.57 L331.53,49.36 L333.88,49.36 L333.88,48.15 L336.42,48.15 L336.42,46.59 L338.96,46.59 L338.96,45.04 L341.49,45.04 L341.49,43.48 L343.84,43.48 L343.84,42.56 L346.19,42.56 L346.19,41.63 L348.54,41.63 L348.54,40.70 L350.89,40.70 L350.89,39.78 L352.91,39.78 L352.91,38.33 L354.94,38.33 L354.94,36.88 L355.59,36.88 L355.59,33.66 L356.24,33.66 L356.24,30.44 L359.07,30.44 L359.07,29.19 L361.91,29.19 L361.91,27.95 L364.74,27.95 L364.74,26.70 L367.58,26.70 L367.58,25.45 L370.07,25.45 L370.07,25.29 L372.57,25.29 L372.57,25.13 L375.06,25.13 L375.06,24.97 L377.56,24.97 L377.56,24.81 L380.05,24.81 L380.05,24.65 L382.78,24.65 L382.78,24.38 L385.52,24.38 L385.52,24.12 L388.25,24.12 L388.25,23.86 L390.98,23.86 L390.98,23.60 L393.72,23.60 L393.72,23.34 L396.45,23.34 L396.45,23.08 L399.19,23.08 L399.19,22.81 L401.92,22.81 L401.92,22.55 L404.24,22.55 L404.24,21.80 L406.56,21.80 L406.56,21.05 L408.89,21.05 L408.89,20.30 L411.53,20.30 L411.53,19.98 L414.18,19.98 L414.18,19.65 L416.82,19.65 L416.82,19.33 L419.47,19.33 L419.47,19.01 L422.12,19.01 L422.12,18.69 L424.76,18.69 L424.76,18.37 L427.41,18.37 L427.41,18.04 L430.05,18.04 L430.05,17.72 L432.70,17.72 L432.70,17.40" fill="none" stroke="#FFDC91" stroke-width="1.35" stroke-linejoin="round" />
<path d="M270.70,178.40 L270.79,178.40 L270.79,175.73 L270.89,175.73 L270.89,173.06 L270.98,173.06 L270.98,170.40 L271.07,170.40 L271.07,167.73 L271.16,167.73 L271.16,165.06 L271.26,165.06 L271.26,162.39 L271.35,162.39 L271.35,159.72 L271.44,159.72 L271.44,157.06 L271.53,157.06 L271.53,154.39 L271.63,154.39 L271.63,151.72 L271.72,151.72 L271.72,149.05 L271.81,149.05 L271.81,146.38 L271.90,146.38 L271.90,143.72 L272.00,143.72 L272.00,141.05 L277.02,141.05 L277.08,141.05 L277.08,138.51 L277.13,138.51 L277.13,135.97 L277.19,135.97 L277.19,133.43 L277.25,133.43 L277.25,130.90 L277.30,130.90 L277.30,128.36 L277.36,128.36 L277.36,125.82 L277.42,125.82 L277.42,123.28 L277.48,123.28 L277.48,120.74 L277.53,120.74 L277.53,118.20 L277.59,118.20 L277.59,115.67 L277.65,115.67 L277.65,113.13 L277.70,113.13 L277.70,110.59 L277.76,110.59 L277.76,108.05 L277.82,108.05 L277.82,105.51 L277.88,105.51 L277.88,102.98 L277.93,102.98 L277.93,100.44 L277.99,100.44 L277.99,97.90 L286.41,97.90 L286.41,88.88 L295.00,88.88 L295.08,88.88 L295.08,86.33 L295.16,86.33 L295.16,83.77 L295.24,83.77 L295.24,81.22 L295.32,81.22 L295.32,78.66 L295.41,78.66 L295.41,76.10 L295.49,76.10 L295.49,73.55 L295.57,73.55 L295.57,70.99 L295.65,70.99 L295.65,68.44 L298.02,68.44 L298.02,68.17 L300.40,68.17 L300.40,67.90 L302.78,67.90 L302.78,67.63 L303.18,67.63 L303.18,64.81 L303.59,64.81 L303.59,62.00 L305.91,62.00 L305.91,61.78 L308.23,61.78 L308.23,61.57 L310.55,61.57 L310.55,61.35 L311.04,61.35 L311.04,58.51 L311.52,58.51 L311.52,55.66 L312.01,55.66 L312.01,52.82 L314.93,52.82 L314.93,52.02 L317.32,52.02 L317.32,51.33 L319.70,51.33 L319.70,50.65 L322.09,50.65 L322.09,49.96 L324.48,49.96 L324.48,49.28 L326.83,49.28 L326.83,48.31 L329.18,48.31 L329.18,47.35 L331.53,47.35 L331.53,46.38 L333.88,46.38 L333.88,45.41 L336.09,45.41 L336.09,44.50 L338.31,44.50 L338.31,43.59 L340.52,43.59 L340.52,42.68 L341.49,42.68 L341.49,39.78 L343.84,39.78 L343.84,38.93 L346.19,38.93 L346.19,38.09 L348.54,38.09 L348.54,37.24 L350.89,37.24 L350.89,36.40 L353.67,36.40 L353.67,35.89 L356.45,35.89 L356.45,35.38 L359.23,35.38 L359.23,34.87 L362.01,34.87 L362.01,34.36 L364.80,34.36 L364.80,33.85 L367.58,33.85 L367.58,33.34 L370.07,33.34 L370.07,32.76 L372.57,32.76 L372.57,32.18 L375.06,32.18 L375.06,31.60 L377.56,31.60 L377.56,31.02 L380.05,31.02 L380.05,30.44 L382.64,30.44 L382.64,29.56 L385.23,29.56 L385.23,28.67 L387.88,28.67 L387.88,27.76 L390.53,27.76 L390.53,26.85 L393.17,26.85 L393.17,25.93 L396.09,25.93 L396.09,25.50 L399.00,25.50 L399.00,25.07 L401.92,25.07 L401.92,24.65 L404.51,24.65 L404.51,21.59 L407.07,21.59 L407.07,21.21 L409.64,21.21 L409.64,20.82 L412.20,20.82 L412.20,20.44 L414.76,20.44 L414.76,20.06 L417.32,20.06 L417.32,19.68 L419.89,19.68 L419.89,19.30 L422.45,19.30 L422.45,18.92 L425.01,18.92 L425.01,18.54 L427.57,18.54 L427.57,18.16 L430.14,18.16 L430.14,17.78 L432.70,17.78 L432.70,17.40" fill="none" stroke="#20854E" stroke-width="1.35" stroke-linejoin="round" />
<path d="M270.70,178.40 L270.75,178.40 L270.75,175.79 L270.80,175.79 L270.80,173.19 L270.84,173.19 L270.84,170.58 L270.89,170.58 L270.89,167.98 L270.94,167.98 L270.94,165.37 L270.99,165.37 L270.99,162.77 L271.04,162.77 L271.04,160.16 L271.08,160.16 L271.08,157.55 L271.13,157.55 L271.13,154.95 L271.18,154.95 L271.18,152.34 L271.23,152.34 L271.23,149.74 L271.28,149.74 L271.28,147.13 L271.32,147.13 L271.32,144.52 L271.37,144.52 L271.37,141.92 L271.42,141.92 L271.42,139.31 L271.47,139.31 L271.47,136.71 L271.52,136.71 L271.52,134.10 L271.56,134.10 L271.56,131.50 L271.61,131.50 L271.61,128.89 L271.66,128.89 L271.66,126.28 L271.71,126.28 L271.71,123.68 L271.76,123.68 L271.76,121.07 L271.80,121.07 L271.80,118.47 L271.85,118.47 L271.85,115.86 L271.90,115.86 L271.90,113.25 L271.95,113.25 L271.95,110.65 L272.00,110.65 L272.00,108.04 L277.99,108.04 L277.99,82.61 L286.41,82.61 L286.41,63.45 L293.54,63.45 L294.27,63.45 L294.27,60.95 L295.00,60.95 L295.00,58.46 L297.32,58.46 L297.32,57.97 L299.64,57.97 L299.64,57.49 L301.97,57.49 L301.97,57.01 L301.97,53.46 L304.34,53.46 L304.34,53.25 L306.72,53.25 L306.72,53.03 L309.09,53.03 L309.09,52.82 L309.82,52.82 L309.82,49.96 L310.55,49.96 L310.55,47.10 L311.28,47.10 L311.28,44.25 L312.01,44.25 L312.01,41.39 L314.68,41.39 L314.68,41.07 L317.36,41.07 L317.36,40.75 L317.36,31.41 L319.89,31.41 L319.89,31.09 L322.43,31.09 L322.43,30.76 L324.97,30.76 L324.97,30.44 L327.83,30.44 L327.83,28.78 L330.69,28.78 L330.69,27.11 L333.56,27.11 L333.56,25.45 L336.03,25.45 L336.03,25.19 L338.50,25.19 L338.50,24.93 L340.97,24.93 L340.97,24.67 L343.44,24.67 L343.44,24.40 L345.91,24.40 L345.91,24.14 L348.38,24.14 L348.38,23.88 L350.85,23.88 L350.85,23.62 L353.32,23.62 L353.32,23.36 L355.96,23.36 L355.96,22.94 L358.60,22.94 L358.60,22.53 L361.23,22.53 L361.23,22.12 L363.87,22.12 L363.87,21.70 L366.51,21.70 L366.51,21.29 L369.15,21.29 L369.15,20.87 L371.79,20.87 L371.79,20.46 L380.05,20.30 L382.60,20.30 L382.60,20.14 L385.15,20.14 L385.15,19.98 L387.69,19.98 L387.69,19.82 L390.24,19.82 L390.24,19.65 L392.79,19.65 L392.79,19.49 L395.34,19.49 L395.34,19.33 L397.88,19.33 L397.88,19.17 L400.43,19.17 L400.43,19.01 L402.98,19.01 L402.98,18.85 L405.53,18.85 L405.53,18.69 L408.08,18.69 L408.08,18.53 L410.81,18.53 L410.81,18.40 L413.55,18.40 L413.55,18.28 L416.28,18.28 L416.28,18.15 L419.02,18.15 L419.02,18.03 L421.76,18.03 L421.76,17.90 L424.49,17.90 L424.49,17.78 L427.23,17.78 L427.23,17.65 L429.96,17.65 L429.96,17.53 L432.70,17.53 L432.70,17.40" fill="none" stroke="#BC3C29" stroke-width="1.35" stroke-linejoin="round" />
<path d="M348.00,144.70 L356.70,144.70" fill="none" stroke="#BC3C29" stroke-width="1.3" stroke-linejoin="round" />
<text x="358.90" y="144.70" font-size="3.83" text-anchor="start" dominant-baseline="central" fill="#1a1a1a" font-family="&quot;Liberation Serif&quot;, serif" stroke="#1a1a1a" stroke-width="0.07">XGBoost(AUC = 0.887 95%CI (0.794-0.978))</text>
<path d="M348.00,150.06 L356.70,150.06" fill="none" stroke="#0072B5" stroke-width="1.3" stroke-linejoin="round" />
<text x="358.90" y="150.06" font-size="3.83" text-anchor="start" dominant-baseline="central" fill="#1a1a1a" font-family="&quot;Liberation Serif&quot;, serif" stroke="#1a1a1a" stroke-width="0.07">LR(AUC = 0.798 95%CI (0.672-0.925))</text>
<path d="M348.00,155.42 L356.70,155.42" fill="none" stroke="#E18727" stroke-width="1.3" stroke-linejoin="round" />
<text x="358.90" y="155.42" font-size="3.83" text-anchor="start" dominant-baseline="central" fill="#1a1a1a" font-family="&quot;Liberation Serif&quot;, serif" stroke="#1a1a1a" stroke-width="0.07">LightGBM(AUC = 0.726 95%CI (0.576-0.876))</text>
<path d="M348.00,160.78 L356.70,160.78" fill="none" stroke="#20854E" stroke-width="1.3" stroke-linejoin="round" />
<text x="358.90" y="160.78" font-size="3.83" text-anchor="start" dominant-baseline="central" fill="#1a1a1a" font-family="&quot;Liberation Serif&quot;, serif" stroke="#1a1a1a" stroke-width="0.07">AdaBoost(AUC = 0.813 95%CI (0.689-0.938))</text>
<path d="M348.00,166.14 L356.70,166.14" fill="none" stroke="#7876B1" stroke-width="1.3" stroke-linejoin="round" />
<text x="358.90" y="166.14" font-size="3.83" text-anchor="start" dominant-baseline="central" fill="#1a1a1a" font-family="&quot;Liberation Serif&quot;, serif" stroke="#1a1a1a" stroke-width="0.07">GNB(AUC = 0.776 95%CI (0.641-0.911))</text>
<path d="M348.00,171.50 L356.70,171.50" fill="none" stroke="#6F99AD" stroke-width="1.3" stroke-linejoin="round" />
<text x="358.90" y="171.50" font-size="3.83" text-anchor="start" dominant-baseline="central" fill="#1a1a1a" font-family="&quot;Liberation Serif&quot;, serif" stroke="#1a1a1a" stroke-width="0.07">MLP(AUC = 0.735 95%CI (0.597-0.874))</text>
<path d="M348.00,176.86 L356.70,176.86" fill="none" stroke="#FFDC91" stroke-width="1.3" stroke-linejoin="round" />
<text x="358.90" y="176.86" font-size="3.83" text-anchor="start" dominant-baseline="central" fill="#1a1a1a" font-family="&quot;Liberation Serif&quot;, serif" stroke="#1a1a1a" stroke-width="0.07">SVM(AUC = 0.818 95%CI (0.698-0.939))</text>
<rect x="47.30" y="224.50" width="169.10" height="167.70" fill="none" stroke="#d4d4d4" stroke-width="1.0"/>
<text x="131.85" y="217.00" font-size="9.1" text-anchor="middle" dominant-baseline="central" fill="#1a1a1a" font-family="&quot;Liberation Serif&quot;, serif" stroke="#1a1a1a" stroke-width="0.12">PR Curve(Training)</text>
<text x="54.80" y="400.80" font-size="7.6" text-anchor="middle" dominant-baseline="central" fill="#1a1a1a" font-family="&quot;Liberation Serif&quot;, serif" stroke="#1a1a1a" stroke-width="0.14">0.0</text>
<text x="85.40" y="400.80" font-size="7.6" text-anchor="middle" dominant-baseline="central" fill="#1a1a1a" font-family="&quot;Liberation Serif&quot;, serif" stroke="#1a1a1a" stroke-width="0.14">0.2</text>
<text x="116.00" y="400.80" font-size="7.6" text-anchor="middle" dominant-baseline="central" fill="#1a1a1a" font-family="&quot;Liberation Serif&quot;, serif" stroke="#1a1a1a" stroke-width="0.14">0.4</text>
<text x="146.60" y="400.80" font-size="7.6" text-anchor="middle" dominant-baseline="central" fill="#1a1a1a" font-family="&quot;Liberation Serif&quot;, serif" stroke="#1a1a1a" stroke-width="0.14">0.6</text>
<text x="177.20" y="400.80" font-size="7.6" text-anchor="middle" dominant-baseline="central" fill="#1a1a1a" font-family="&quot;Liberation Serif&quot;, serif" stroke="#1a1a1a" stroke-width="0.14">0.8</text>
<text x="207.80" y="400.80" font-size="7.6" text-anchor="middle" dominant-baseline="central" fill="#1a1a1a" font-family="&quot;Liberation Serif&quot;, serif" stroke="#1a1a1a" stroke-width="0.14">1.0</text>
<text x="42.10" y="379.80" font-size="7.6" text-anchor="end" dominant-baseline="central" fill="#1a1a1a" font-family="&quot;Liberation Serif&quot;, serif" stroke="#1a1a1a" stroke-width="0.14">0.6</text>
<text x="42.10" y="343.15" font-size="7.6" text-anchor="end" dominant-baseline="central" fill="#1a1a1a" font-family="&quot;Liberation Serif&quot;, serif" stroke="#1a1a1a" stroke-width="0.14">0.7</text>
<text x="42.10" y="306.50" font-size="7.6" text-anchor="end" dominant-baseline="central" fill="#1a1a1a" font-family="&quot;Liberation Serif&quot;, serif" stroke="#1a1a1a" stroke-width="0.14">0.8</text>
<text x="42.10" y="269.85" font-size="7.6" text-anchor="end" dominant-baseline="central" fill="#1a1a1a" font-family="&quot;Liberation Serif&quot;, serif" stroke="#1a1a1a" stroke-width="0.14">0.9</text>
<text x="42.10" y="233.20" font-size="7.6" text-anchor="end" dominant-baseline="central" fill="#1a1a1a" font-family="&quot;Liberation Serif&quot;, serif" stroke="#1a1a1a" stroke-width="0.14">1.0</text>
<text x="131.55" y="410.40" font-size="8.0" text-anchor="middle" dominant-baseline="central" fill="#1a1a1a" font-family="&quot;Liberation Serif&quot;, serif" stroke="#1a1a1a" stroke-width="0.12">Recall</text>
<text x="25.30" y="309.10" font-size="8.44" text-anchor="middle" dominant-baseline="central" fill="#1a1a1a" font-family="&quot;Liberation Serif&quot;, serif" transform="rotate(-90 25.30 309.10)" stroke="#1a1a1a" stroke-width="0.12">Precision</text>
<path d="M54.80,232.60 L55.09,233.52 L55.25,235.16 L56.26,236.67 L56.62,238.23 L57.40,239.66 L57.47,241.24 L57.95,242.18 L58.44,244.33 L59.48,246.72 L59.94,249.65 L60.09,252.90 L61.13,254.20 L61.79,253.83 L62.50,252.63 L63.16,251.28 L63.49,251.51 L64.43,253.55 L64.46,255.51 L64.92,257.65 L65.46,259.14 L66.27,260.87 L67.69,263.96 L68.64,265.67 L69.78,267.17 L71.54,268.29 L73.04,269.58 L73.73,270.38 L74.43,272.63 L76.12,273.99 L76.92,275.31 L79.71,276.69 L82.08,278.29 L85.23,279.89 L87.46,280.88 L89.52,282.18 L91.58,283.08 L92.76,284.33 L94.58,285.64 L96.49,286.01 L97.76,286.28 L100.01,286.66 L102.69,287.22 L104.20,288.76 L106.06,289.54 L107.36,290.43 L108.69,290.83 L110.58,291.93 L111.87,292.60 L113.58,293.38 L115.27,293.97 L116.35,295.01 L117.81,295.32 L119.15,296.36 L121.44,297.23 L123.85,298.30 L125.80,299.55 L127.92,301.05 L129.38,301.50 L131.57,303.26 L133.50,304.20 L134.81,305.55 L137.32,307.29 L139.28,308.87 L141.31,311.26 L142.99,312.46 L144.16,313.70 L145.84,315.46 L147.76,316.26 L149.20,317.42 L150.87,318.92 L152.48,320.24 L153.56,321.19 L154.85,322.49 L156.23,323.02 L157.48,324.39 L158.77,325.11 L160.31,326.02 L161.71,327.51 L162.84,328.52 L164.48,329.86 L166.31,330.70 L167.80,331.75 L168.62,333.12 L170.02,334.45 L171.88,335.74 L172.93,336.39 L174.65,337.75 L175.82,338.80 L177.12,340.25 L178.64,341.59 L179.92,342.91 L181.32,343.62 L182.92,345.44 L184.41,345.95 L185.11,347.28 L186.76,348.62 L187.36,349.51 L189.03,351.33 L190.24,352.73 L191.37,354.15 L192.86,355.65 L194.00,357.02 L194.66,358.07 L196.26,359.52 L196.78,360.83 L197.79,362.38 L199.16,364.15 L199.69,365.08 L201.05,366.63 L201.69,368.41 L202.38,369.46 L202.84,371.32 L203.38,372.98 L204.12,374.59 L205.17,376.08 L205.71,376.99 L205.95,379.49 L206.96,381.67 L207.80,384.33" fill="none" stroke="#aadcea" stroke-width="1.25" stroke-linejoin="round" />
<path d="M54.80,232.60 L56.39,232.29 L58.45,232.12 L61.36,231.96 L63.04,232.73 L64.27,234.58 L64.26,237.35 L64.52,239.86 L64.74,241.88 L65.48,243.48 L65.77,245.56 L65.74,248.25 L66.50,249.55 L66.93,250.99 L67.43,252.81 L68.07,255.02 L68.26,257.42 L69.58,260.12 L70.37,260.61 L71.64,259.52 L73.05,257.26 L74.86,256.13 L76.83,256.50 L78.30,257.21 L79.95,258.62 L82.34,259.94 L84.76,261.35 L86.76,262.15 L89.04,264.46 L92.19,265.99 L92.66,266.85 L94.43,267.86 L95.26,269.28 L96.79,270.74 L97.87,271.58 L99.27,272.79 L101.19,273.29 L102.30,274.25 L104.43,274.93 L106.71,275.04 L108.77,274.97 L111.50,274.89 L113.89,274.31 L115.90,274.82 L117.76,274.67 L119.41,274.75 L121.41,274.63 L123.01,275.30 L123.66,275.48 L125.14,275.66 L127.14,275.26 L128.80,275.09 L131.00,274.49 L133.22,275.47 L134.75,276.17 L136.40,277.06 L137.72,278.53 L139.20,280.25 L140.12,281.13 L141.76,283.31 L143.18,284.70 L143.99,286.49 L144.87,287.73 L145.89,288.95 L146.51,290.74 L147.15,292.05 L147.39,293.55 L148.11,295.71 L149.51,297.15 L150.44,298.94 L151.81,300.85 L153.14,302.56 L153.92,303.91 L154.84,305.38 L156.09,306.24 L157.20,307.94 L158.35,308.99 L159.80,310.24 L161.12,312.08 L161.92,313.20 L163.25,314.65 L164.99,315.89 L166.40,317.34 L167.20,319.11 L168.31,320.53 L169.86,321.93 L170.61,322.67 L172.36,324.47 L173.56,325.96 L174.92,327.95 L176.51,329.82 L177.64,331.40 L178.89,332.37 L180.35,334.45 L181.67,335.18 L182.35,336.76 L183.99,338.36 L184.57,339.51 L186.14,341.47 L187.10,342.69 L187.98,343.93 L189.22,345.25 L190.30,346.49 L190.88,347.46 L192.39,348.83 L192.97,350.10 L194.06,351.59 L195.49,353.32 L196.24,354.50 L197.80,356.30 L198.65,358.33 L199.67,359.53 L200.17,361.60 L200.74,363.46 L201.65,365.22 L202.88,366.86 L203.40,367.99 L203.53,370.20 L204.44,372.09 L204.50,373.96 L205.40,375.28 L206.03,377.17 L206.08,378.27 L206.57,379.58 L207.54,382.22 L207.80,384.33" fill="none" stroke="#dcd530" stroke-width="1.25" stroke-linejoin="round" />
<path d="M54.80,232.60 L55.17,234.71 L55.36,236.46 L55.07,237.99 L55.52,239.66 L56.04,241.62 L56.33,243.55 L56.22,245.77 L56.57,246.95 L56.71,248.73 L56.59,250.45 L56.97,252.26 L56.83,254.25 L57.17,255.94 L57.40,257.75 L57.85,259.64 L57.77,261.06 L57.93,262.54 L58.20,264.19 L58.45,266.29 L58.44,268.28 L58.06,269.91 L58.42,271.51 L58.79,273.41 L58.83,274.81 L59.14,276.78 L59.16,278.73 L58.69,280.40 L59.26,282.13 L59.43,283.46 L59.41,285.74 L59.26,287.04 L59.54,288.92 L59.89,290.53 L60.00,292.56 L59.74,293.98 L60.00,295.91 L60.92,295.21 L61.35,293.22 L61.25,291.75 L61.72,289.91 L61.48,287.75 L62.26,286.49 L62.43,283.76 L63.13,281.66 L63.85,280.26 L64.86,278.12 L65.33,276.73 L66.13,275.35 L67.26,273.93 L68.38,272.38 L70.64,269.92 L72.69,268.72 L75.29,267.43 L77.28,267.44 L78.79,267.24 L79.92,267.62 L81.06,269.15 L82.51,270.33 L82.90,271.22 L84.56,270.16 L85.96,267.94 L87.82,266.43 L90.03,264.69 L92.53,265.03 L95.06,265.38 L97.05,265.47 L98.62,266.06 L100.33,266.01 L102.12,266.14 L104.45,265.20 L106.60,264.97 L108.17,264.98 L109.54,263.94 L111.76,263.92 L113.74,262.92 L115.85,262.75 L117.83,262.27 L119.36,261.80 L121.96,261.27 L122.40,261.64 L123.39,261.89 L125.03,262.44 L126.93,263.53 L130.01,263.68 L132.34,265.05 L134.99,265.60 L136.91,266.64 L138.34,267.84 L140.07,269.23 L141.97,271.31 L143.69,272.52 L145.35,273.72 L147.09,274.80 L147.96,276.03 L149.45,276.67 L150.90,278.25 L152.07,279.43 L153.65,280.20 L154.56,281.29 L155.40,282.93 L156.63,284.24 L158.17,285.43 L159.13,287.79 L159.73,289.20 L159.93,291.51 L160.82,293.18 L161.15,295.37 L161.72,297.07 L162.30,298.46 L163.52,299.71 L164.28,301.48 L165.30,303.63 L165.66,305.49 L166.60,306.36 L167.43,308.46 L168.21,309.82 L168.55,311.14 L169.33,312.87 L170.44,314.48 L171.04,315.48 L172.17,317.11 L173.17,319.12 L173.79,320.65 L174.67,322.11 L176.15,323.60 L176.86,324.89 L177.98,327.08 L179.33,328.08 L180.84,329.64 L181.28,331.28 L182.59,332.85 L183.86,333.92 L184.22,335.61 L185.73,336.59 L186.90,338.22 L187.35,339.39 L188.91,340.90 L189.94,342.12 L190.62,343.32 L191.28,345.11 L192.56,346.30 L193.25,347.84 L194.67,349.15 L195.61,351.35 L195.70,352.45 L196.55,354.35 L197.38,356.11 L198.75,358.00 L198.92,359.57 L199.93,361.65 L200.32,362.69 L200.59,364.31 L201.42,366.37 L202.38,367.73 L202.65,369.68 L203.05,371.50 L203.95,372.72 L204.60,374.98 L205.14,376.18 L205.49,378.49 L206.26,379.91 L206.75,381.44 L207.19,382.46 L207.80,384.33" fill="none" stroke="#a8d08d" stroke-width="1.25" stroke-linejoin="round" />
<path d="M54.80,232.60 L54.79,234.32 L55.33,236.42 L55.83,238.01 L55.99,239.26 L56.43,241.20 L56.44,242.67 L56.50,244.97 L56.60,246.00 L57.00,247.81 L57.37,249.52 L57.38,250.76 L57.76,252.60 L58.14,254.40 L58.52,255.92 L58.51,257.69 L59.15,259.31 L58.73,260.64 L59.69,262.75 L59.43,263.79 L59.46,265.34 L59.76,267.60 L60.67,268.72 L60.22,270.77 L60.93,272.38 L60.93,273.96 L61.57,275.42 L61.71,277.06 L61.81,278.86 L61.78,280.06 L62.28,281.86 L62.93,283.29 L62.90,285.32 L63.16,287.19 L63.70,288.95 L63.84,290.49 L64.50,292.58 L64.68,294.35 L64.89,297.13 L64.89,297.16 L65.27,295.01 L66.53,293.73 L68.15,291.35 L69.48,290.37 L70.80,288.99 L72.81,287.07 L74.13,286.10 L75.50,285.05 L76.67,283.64 L79.77,282.73 L82.37,282.86 L84.64,282.64 L87.38,282.61 L90.76,282.98 L91.85,284.09 L93.51,284.23 L95.33,284.67 L97.12,285.12 L98.39,284.83 L100.61,285.32 L102.04,284.39 L103.87,284.35 L105.73,282.97 L107.62,282.31 L110.15,281.46 L111.52,281.10 L113.81,280.76 L115.54,280.20 L118.30,279.98 L120.42,280.14 L122.36,280.08 L125.36,280.56 L127.47,281.06 L129.82,280.94 L132.64,281.36 L135.27,281.76 L137.59,281.71 L140.08,280.84 L142.82,280.42 L144.51,280.68 L146.25,280.89 L148.66,281.20 L150.22,282.60 L151.84,282.74 L153.23,283.82 L154.88,284.77 L156.61,285.33 L157.65,286.34 L159.84,287.26 L161.59,288.98 L163.17,290.45 L164.87,291.59 L166.32,292.52 L167.61,295.20 L169.40,297.09 L170.68,298.61 L171.89,299.70 L172.89,301.46 L174.12,302.49 L175.82,303.96 L177.25,305.54 L177.97,306.51 L180.08,308.33 L180.61,309.56 L181.82,311.38 L182.46,313.07 L183.26,314.11 L184.03,316.33 L184.57,317.97 L185.42,319.15 L185.87,320.81 L186.44,322.55 L186.81,324.19 L187.00,325.44 L187.55,326.93 L188.16,329.05 L188.67,330.24 L189.52,332.18 L189.77,334.04 L190.64,335.34 L190.80,337.15 L191.54,339.03 L192.73,340.58 L192.82,342.60 L194.03,343.68 L194.74,345.82 L195.54,346.77 L195.53,348.59 L196.81,350.51 L197.59,352.17 L199.13,353.81 L199.76,355.21 L200.70,357.42 L201.60,359.02 L201.84,360.36 L202.60,362.29 L203.77,364.16 L203.99,366.06 L204.98,367.75 L205.52,369.73 L205.54,371.40 L206.38,373.13 L206.08,375.55 L206.68,376.99 L206.65,378.68 L207.36,380.72 L207.51,382.62 L207.80,384.33" fill="none" stroke="#e0504a" stroke-width="1.25" stroke-linejoin="round" />
<path d="M54.80,232.60 L56.41,232.51 L57.74,232.72 L60.59,232.57 L62.80,232.50 L64.85,232.51 L66.17,232.65 L67.88,232.03 L70.17,232.47 L72.98,232.48 L74.76,232.75 L76.22,233.61 L78.43,233.69 L80.31,233.90 L82.25,234.56 L84.10,234.99 L85.62,235.60 L87.63,235.93 L89.28,236.66 L91.35,237.55 L93.56,237.73 L96.04,238.15 L98.54,238.81 L100.42,239.27 L102.25,239.99 L104.68,240.52 L106.92,240.88 L108.59,240.44 L110.43,241.24 L113.10,241.13 L114.24,241.01 L116.67,241.03 L119.34,241.34 L121.62,241.53 L122.51,241.02 L123.57,241.01 L125.39,241.09 L127.18,242.27 L129.91,244.09 L132.82,245.50 L134.87,246.97 L136.94,248.04 L138.36,248.57 L139.62,250.45 L142.06,252.26 L143.70,253.86 L145.37,254.96 L147.27,256.52 L148.49,257.58 L150.13,258.76 L151.83,259.81 L153.00,261.35 L154.56,262.15 L155.89,263.59 L157.55,264.54 L159.33,265.68 L160.55,266.91 L161.94,268.40 L162.79,268.82 L164.34,270.54 L165.87,271.44 L166.77,272.74 L168.68,273.96 L170.73,275.14 L172.40,276.61 L174.10,277.60 L176.32,279.01 L178.56,280.47 L180.76,280.97 L182.41,282.45 L184.37,285.20 L185.30,286.81 L185.70,288.05 L186.25,289.80 L187.12,290.94 L187.83,293.02 L188.59,294.44 L189.54,296.10 L190.36,298.35 L190.62,299.97 L191.40,301.92 L192.36,303.54 L192.98,305.37 L193.03,307.75 L193.66,310.09 L194.55,311.86 L194.63,312.97 L195.39,314.76 L195.60,316.40 L195.93,318.45 L196.49,320.38 L196.91,322.40 L197.44,323.82 L198.18,326.34 L198.83,327.61 L198.84,329.74 L199.81,331.90 L199.78,333.66 L200.84,336.36 L201.29,338.32 L201.56,339.84 L202.19,341.46 L202.65,342.99 L202.65,344.19 L203.55,345.83 L203.52,347.37 L203.99,349.13 L204.81,351.13 L204.83,352.31 L205.67,354.10 L205.80,356.14 L206.10,357.33 L206.04,359.51 L206.06,361.48 L206.42,363.36 L207.09,365.10 L207.17,366.40 L206.85,368.78 L207.30,370.83 L206.91,372.86 L207.46,374.34 L207.73,376.39 L207.44,377.66 L207.58,379.13 L208.00,381.19 L207.35,382.71 L207.80,384.33" fill="none" stroke="#b02a78" stroke-width="1.25" stroke-linejoin="round" />
<path d="M54.80,232.60 L57.82,232.35 L59.72,232.43 L62.42,232.18 L64.58,232.15 L67.21,232.13 L68.62,232.59 L70.42,232.28 L72.60,234.26 L74.55,236.54 L75.60,239.05 L76.47,241.76 L78.28,242.93 L79.63,243.96 L81.33,245.32 L83.61,246.64 L84.86,247.66 L86.60,248.38 L88.16,249.61 L90.16,251.00 L92.27,251.59 L94.63,252.42 L96.78,253.31 L98.30,254.00 L101.01,255.31 L103.96,256.07 L106.61,256.55 L108.77,256.06 L111.34,256.67 L114.84,256.12 L116.83,255.50 L119.70,255.09 L120.98,254.99 L122.48,254.96 L123.38,254.40 L125.04,254.19 L127.69,253.62 L129.95,253.48 L132.74,253.59 L135.20,253.21 L136.17,252.85 L137.22,252.37 L138.22,251.92 L139.87,253.44 L141.61,254.37 L143.15,255.53 L144.47,256.14 L146.35,257.45 L147.55,258.27 L149.29,259.35 L151.02,260.24 L152.21,261.62 L153.73,262.30 L155.12,263.70 L156.85,264.61 L158.70,265.78 L160.10,267.12 L161.67,268.72 L162.76,269.36 L164.58,271.31 L166.38,272.45 L167.42,274.00 L168.93,275.07 L170.60,276.11 L171.77,277.58 L172.98,278.58 L173.69,279.62 L174.70,281.72 L175.95,282.86 L176.65,285.72 L177.37,289.09 L177.95,290.90 L177.99,292.35 L178.53,294.47 L179.39,295.97 L180.22,298.51 L181.09,300.40 L182.20,302.36 L183.19,304.91 L183.57,306.32 L184.46,308.06 L185.92,309.44 L186.81,310.04 L187.16,311.01 L188.46,313.02 L189.83,314.68 L190.38,315.68 L191.77,317.72 L192.62,319.46 L193.26,321.22 L194.13,322.88 L194.84,324.51 L195.63,325.83 L196.62,328.25 L197.50,329.35 L197.54,331.19 L198.53,333.05 L198.47,334.46 L199.49,336.78 L199.80,338.27 L200.02,339.76 L200.61,341.35 L201.04,342.84 L200.99,344.01 L201.85,345.63 L201.78,347.14 L202.20,348.88 L202.98,350.86 L203.05,352.00 L203.95,354.01 L204.13,356.26 L204.49,357.67 L204.61,359.90 L204.72,361.83 L205.15,363.68 L205.91,365.39 L206.14,366.53 L205.91,368.73 L206.45,370.61 L206.16,372.47 L206.84,373.98 L207.25,376.34 L207.08,377.90 L207.35,379.68 L207.93,382.27 L207.80,384.33" fill="none" stroke="#2e86b8" stroke-width="1.25" stroke-linejoin="round" />
<path d="M54.80,232.60 L56.48,232.55 L57.89,232.81 L60.09,232.74 L61.66,232.74 L63.69,232.76 L65.01,232.92 L66.71,232.30 L68.38,232.62 L70.51,232.51 L72.03,232.45 L73.21,232.99 L75.29,232.60 L77.04,232.35 L78.86,232.48 L80.59,232.38 L81.88,232.49 L83.67,232.31 L84.91,232.51 L86.58,232.88 L88.29,232.50 L90.32,232.36 L92.38,232.50 L93.80,232.45 L95.28,232.77 L97.36,232.91 L99.27,233.02 L100.61,232.33 L102.11,233.00 L104.46,232.75 L105.45,232.55 L107.72,232.49 L109.08,232.68 L111.18,232.95 L112.69,232.69 L114.53,232.78 L116.64,232.53 L117.94,232.74 L119.78,233.16 L121.75,233.00 L123.18,233.02 L125.26,233.01 L127.09,232.69 L128.53,233.45 L130.33,233.45 L131.92,233.68 L133.55,233.41 L135.63,233.94 L137.02,233.98 L138.83,234.13 L140.69,234.21 L142.01,234.78 L144.10,234.60 L146.07,235.16 L148.07,235.10 L150.17,235.24 L151.83,235.55 L153.65,236.11 L154.94,235.62 L156.95,236.44 L158.94,236.46 L160.31,236.89 L162.15,236.83 L164.13,236.79 L165.96,237.28 L167.83,237.28 L169.29,237.39 L171.22,238.17 L173.38,237.99 L175.13,238.21 L177.24,238.92 L179.30,239.44 L180.68,239.62 L182.27,240.15 L184.18,240.07 L186.36,241.01 L188.59,241.30 L190.39,241.70 L192.06,242.70 L193.80,243.37 L195.56,244.57 L197.49,245.77 L199.15,247.70 L200.04,250.34 L201.32,253.34 L202.30,255.08 L202.47,256.16 L203.15,257.96 L203.28,259.46 L203.39,261.45 L203.74,263.32 L203.87,265.58 L204.12,267.24 L204.54,269.78 L204.85,271.00 L204.52,273.07 L205.15,274.98 L204.71,276.42 L205.36,278.79 L205.39,280.43 L205.36,282.32 L205.69,284.30 L205.85,286.18 L205.55,287.75 L206.12,289.36 L205.76,290.87 L205.90,292.60 L206.40,294.57 L206.19,295.71 L206.79,297.47 L206.66,299.61 L206.69,300.92 L206.50,303.04 L206.38,304.95 L206.59,306.77 L207.12,308.47 L207.14,309.58 L206.72,311.63 L207.08,313.36 L206.60,315.06 L207.11,316.41 L207.34,318.34 L207.00,319.47 L207.10,320.82 L207.48,322.88 L206.78,324.40 L207.05,325.87 L207.59,327.72 L207.30,329.47 L207.26,330.84 L207.14,332.31 L207.05,334.01 L206.94,336.26 L207.24,337.46 L207.73,339.53 L207.27,340.98 L207.67,342.47 L207.04,344.07 L207.15,346.13 L207.09,347.74 L207.41,349.57 L207.70,351.27 L207.73,352.67 L207.46,354.32 L207.34,356.65 L207.90,358.07 L207.30,360.11 L207.82,361.77 L207.67,363.31 L207.62,364.99 L207.78,366.37 L207.83,368.08 L207.84,370.14 L207.99,371.49 L207.59,373.93 L208.00,375.15 L207.54,377.00 L207.58,379.10 L207.87,380.40 L207.86,382.72 L207.80,384.33" fill="none" stroke="#2e86b8" stroke-width="1.25" stroke-linejoin="round" />
<path d="M50.20,354.60 L58.70,354.60" fill="none" stroke="#2e86b8" stroke-width="1.2" stroke-linejoin="round" />
<text x="61.00" y="354.60" font-size="3.83" text-anchor="start" dominant-baseline="central" fill="#1a1a1a" font-family="&quot;Liberation Serif&quot;, serif" stroke="#1a1a1a" stroke-width="0.07">XGBoost (AP = 0.987 95%CI (0.976-0.997))</text>
<path d="M50.20,359.95 L58.70,359.95" fill="none" stroke="#a8d08d" stroke-width="1.2" stroke-linejoin="round" />
<text x="61.00" y="359.95" font-size="3.83" text-anchor="start" dominant-baseline="central" fill="#1a1a1a" font-family="&quot;Liberation Serif&quot;, serif" stroke="#1a1a1a" stroke-width="0.07">LR (AP = 0.844 95%CI (0.839-0.849))</text>
<path d="M50.20,365.30 L58.70,365.30" fill="none" stroke="#e0504a" stroke-width="1.2" stroke-linejoin="round" />
<text x="61.00" y="365.30" font-size="3.83" text-anchor="start" dominant-baseline="central" fill="#1a1a1a" font-family="&quot;Liberation Serif&quot;, serif" stroke="#1a1a1a" stroke-width="0.07">LightGBM (AP = 0.813 95%CI (0.776-0.85))</text>
<path d="M50.20,370.65 L58.70,370.65" fill="none" stroke="#b02a78" stroke-width="1.2" stroke-linejoin="round" />
<text x="61.00" y="370.65" font-size="3.83" text-anchor="start" dominant-baseline="central" fill="#1a1a1a" font-family="&quot;Liberation Serif&quot;, serif" stroke="#1a1a1a" stroke-width="0.07">AdaBoost (AP = 0.924 95%CI (0.916-0.932))</text>
<path d="M50.20,376.00 L58.70,376.00" fill="none" stroke="#dcd530" stroke-width="1.2" stroke-linejoin="round" />
<text x="61.00" y="376.00" font-size="3.83" text-anchor="start" dominant-baseline="central" fill="#1a1a1a" font-family="&quot;Liberation Serif&quot;, serif" stroke="#1a1a1a" stroke-width="0.07">GNB (AP = 0.837 95%CI (0.833-0.841))</text>
<path d="M50.20,381.35 L58.70,381.35" fill="none" stroke="#aadcea" stroke-width="1.2" stroke-linejoin="round" />
<text x="61.00" y="381.35" font-size="3.83" text-anchor="start" dominant-baseline="central" fill="#1a1a1a" font-family="&quot;Liberation Serif&quot;, serif" stroke="#1a1a1a" stroke-width="0.07">MLP (AP = 0.8 95%CI (0.766-0.834))</text>
<path d="M50.20,386.70 L58.70,386.70" fill="none" stroke="#2e86b8" stroke-width="1.2" stroke-linejoin="round" />
<text x="61.00" y="386.70" font-size="3.83" text-anchor="start" dominant-baseline="central" fill="#1a1a1a" font-family="&quot;Liberation Serif&quot;, serif" stroke="#1a1a1a" stroke-width="0.07">SVM (AP = 0.901 95%CI (0.89-0.91))</text>
<rect x="271.60" y="227.00" width="169.20" height="167.30" fill="none" stroke="#d4d4d4" stroke-width="1.0"/>
<text x="356.20" y="219.90" font-size="9.1" text-anchor="middle" dominant-baseline="central" fill="#1a1a1a" font-family="&quot;Liberation Serif&quot;, serif" stroke="#1a1a1a" stroke-width="0.12">PR Curve(Validation)</text>
<text x="279.60" y="403.70" font-size="7.6" text-anchor="middle" dominant-baseline="central" fill="#1a1a1a" font-family="&quot;Liberation Serif&quot;, serif" stroke="#1a1a1a" stroke-width="0.14">0.0</text>
<text x="310.20" y="403.70" font-size="7.6" text-anchor="middle" dominant-baseline="central" fill="#1a1a1a" font-family="&quot;Liberation Serif&quot;, serif" stroke="#1a1a1a" stroke-width="0.14">0.2</text>
<text x="340.80" y="403.70" font-size="7.6" text-anchor="middle" dominant-baseline="central" fill="#1a1a1a" font-family="&quot;Liberation Serif&quot;, serif" stroke="#1a1a1a" stroke-width="0.14">0.4</text>
<text x="371.40" y="403.70" font-size="7.6" text-anchor="middle" dominant-baseline="central" fill="#1a1a1a" font-family="&quot;Liberation Serif&quot;, serif" stroke="#1a1a1a" stroke-width="0.14">0.6</text>
<text x="402.00" y="403.70" font-size="7.6" text-anchor="middle" dominant-baseline="central" fill="#1a1a1a" font-family="&quot;Liberation Serif&quot;, serif" stroke="#1a1a1a" stroke-width="0.14">0.8</text>
<text x="432.60" y="403.70" font-size="7.6" text-anchor="middle" dominant-baseline="central" fill="#1a1a1a" font-family="&quot;Liberation Serif&quot;, serif" stroke="#1a1a1a" stroke-width="0.14">1.0</text>
<text x="266.40" y="383.00" font-size="7.6" text-anchor="end" dominant-baseline="central" fill="#1a1a1a" font-family="&quot;Liberation Serif&quot;, serif" stroke="#1a1a1a" stroke-width="0.14">0.6</text>
<text x="266.40" y="346.35" font-size="7.6" text-anchor="end" dominant-baseline="central" fill="#1a1a1a" font-family="&quot;Liberation Serif&quot;, serif" stroke="#1a1a1a" stroke-width="0.14">0.7</text>
<text x="266.40" y="309.70" font-size="7.6" text-anchor="end" dominant-baseline="central" fill="#1a1a1a" font-family="&quot;Liberation Serif&quot;, serif" stroke="#1a1a1a" stroke-width="0.14">0.8</text>
<text x="266.40" y="273.05" font-size="7.6" text-anchor="end" dominant-baseline="central" fill="#1a1a1a" font-family="&quot;Liberation Serif&quot;, serif" stroke="#1a1a1a" stroke-width="0.14">0.9</text>
<text x="266.40" y="236.40" font-size="7.6" text-anchor="end" dominant-baseline="central" fill="#1a1a1a" font-family="&quot;Liberation Serif&quot;, serif" stroke="#1a1a1a" stroke-width="0.14">1.0</text>
<text x="355.90" y="412.50" font-size="8.0" text-anchor="middle" dominant-baseline="central" fill="#1a1a1a" font-family="&quot;Liberation Serif&quot;, serif" stroke="#1a1a1a" stroke-width="0.12">Recall</text>
<text x="249.60" y="311.50" font-size="8.44" text-anchor="middle" dominant-baseline="central" fill="#1a1a1a" font-family="&quot;Liberation Serif&quot;, serif" transform="rotate(-90 249.60 311.50)" stroke="#1a1a1a" stroke-width="0.12">Precision</text>
<path d="M279.60,235.00 L279.78,236.49 L279.38,238.12 L280.16,239.81 L280.06,241.21 L280.03,243.01 L279.88,244.53 L279.94,246.68 L280.38,248.01 L280.70,249.78 L280.40,251.57 L280.72,253.25 L280.58,254.37 L280.50,256.37 L281.07,258.00 L280.96,259.72 L281.37,261.25 L280.86,262.88 L281.73,264.43 L281.40,265.96 L281.36,267.23 L281.97,269.23 L282.06,270.51 L281.76,272.63 L281.63,274.00 L282.00,275.39 L282.34,277.36 L282.15,279.08 L282.73,280.13 L282.84,281.91 L282.46,283.48 L282.24,285.41 L282.40,287.06 L283.18,288.86 L282.64,289.97 L283.31,291.86 L283.52,293.36 L283.27,295.01 L282.95,296.72 L283.41,298.25 L283.91,300.15 L283.33,301.18 L283.34,302.93 L283.47,304.47 L284.12,306.31 L284.18,304.83 L284.66,303.23 L285.14,301.88 L285.36,300.27 L285.65,298.47 L286.21,297.03 L286.61,295.62 L287.34,294.13 L287.27,292.10 L287.74,290.69 L288.66,289.68 L288.57,288.12 L289.55,286.44 L289.77,284.50 L290.29,282.77 L290.54,281.45 L290.93,279.98 L291.47,277.63 L292.19,276.10 L292.50,274.67 L292.79,272.70 L293.67,271.63 L293.84,272.42 L294.52,273.88 L295.12,275.79 L296.17,276.96 L296.71,278.54 L297.34,280.29 L297.80,281.43 L298.76,282.69 L299.40,284.23 L300.28,285.60 L300.52,287.10 L301.08,288.95 L301.85,290.62 L303.80,289.27 L305.38,289.42 L307.47,288.71 L308.65,287.38 L310.35,287.21 L312.05,288.08 L312.45,289.80 L313.69,291.07 L314.88,292.93 L316.24,291.85 L317.70,290.80 L319.45,289.48 L321.35,289.13 L322.55,288.47 L324.10,286.85 L325.36,286.07 L327.43,287.51 L328.71,288.27 L330.04,288.48 L331.96,289.93 L333.42,290.74 L334.50,291.45 L335.77,292.59 L337.91,292.82 L339.22,293.67 L340.56,294.85 L341.55,296.11 L343.15,297.85 L344.10,299.22 L344.74,300.39 L346.09,302.08 L346.69,303.30 L348.27,304.52 L349.19,305.95 L350.53,307.22 L351.51,308.53 L353.23,309.31 L354.73,309.63 L356.27,310.29 L357.86,311.12 L358.69,311.39 L360.45,311.75 L361.74,312.88 L363.70,314.24 L364.90,315.72 L365.69,316.36 L367.43,317.46 L368.13,318.50 L369.81,319.12 L371.11,320.26 L372.33,321.79 L373.82,322.34 L375.12,323.48 L376.06,324.59 L377.32,325.55 L379.08,326.80 L379.85,327.20 L381.50,328.16 L382.62,329.64 L384.28,330.78 L385.49,331.70 L386.54,332.68 L388.31,333.37 L389.43,334.57 L390.55,335.86 L391.62,336.62 L393.40,338.38 L394.24,338.84 L395.89,340.05 L396.87,341.33 L398.52,342.13 L399.74,343.20 L400.86,344.21 L401.96,345.70 L403.17,346.52 L405.03,347.62 L405.86,348.66 L408.06,349.04 L409.66,349.30 L411.10,350.32 L412.91,350.56 L414.95,350.40 L416.17,352.26 L416.58,353.51 L418.13,354.54 L418.59,355.82 L419.65,357.51 L421.54,358.48 L422.45,360.32 L422.86,361.82 L423.98,362.79 L424.92,364.84 L425.05,366.38 L425.86,367.62 L426.22,369.16 L427.33,371.16 L427.85,372.27 L428.15,373.65 L428.97,375.92 L429.61,377.22 L429.92,378.55 L430.83,379.83 L431.61,381.76 L431.89,383.37 L432.60,384.90" fill="none" stroke="#aadcea" stroke-width="1.25" stroke-linejoin="round" />
<path d="M279.60,235.00 L281.47,234.87 L282.75,234.87 L285.23,234.94 L285.12,236.33 L285.09,238.11 L284.94,239.62 L285.00,241.75 L285.44,243.06 L285.77,244.82 L285.47,246.60 L285.78,248.27 L285.64,249.37 L285.56,251.36 L286.13,252.97 L286.02,254.68 L286.43,256.20 L285.93,257.82 L286.80,259.35 L286.47,260.87 L286.42,262.12 L287.04,264.11 L287.12,265.38 L286.83,267.48 L286.70,268.84 L287.06,270.21 L287.41,272.17 L287.21,273.87 L287.79,274.91 L287.90,276.67 L287.53,278.24 L287.31,280.15 L287.46,281.78 L288.24,283.58 L287.70,284.67 L288.37,286.55 L288.58,288.03 L289.30,286.72 L289.96,285.45 L291.39,284.01 L292.46,285.89 L292.46,286.90 L293.04,288.63 L293.74,290.15 L294.96,291.97 L295.28,293.64 L296.02,295.20 L296.75,297.00 L297.81,295.84 L298.94,294.49 L300.34,293.50 L301.57,292.55 L303.14,291.51 L303.92,289.93 L305.58,290.62 L307.69,291.71 L308.79,292.25 L310.97,292.67 L311.95,291.24 L313.23,290.02 L314.24,289.21 L315.40,288.25 L316.69,286.41 L318.17,285.38 L319.25,284.46 L320.30,283.00 L321.94,282.44 L322.68,280.60 L323.95,279.44 L325.12,278.72 L327.25,278.86 L328.88,279.42 L330.59,280.15 L332.15,280.26 L334.19,280.49 L335.69,279.93 L337.44,279.22 L338.56,278.62 L339.99,278.37 L341.63,277.95 L343.40,276.64 L344.79,276.81 L346.46,277.87 L347.20,278.29 L348.48,279.88 L350.39,280.47 L351.01,281.92 L352.80,281.82 L354.55,282.30 L356.04,282.11 L357.63,281.95 L359.50,281.53 L361.52,282.06 L362.74,283.18 L364.32,283.35 L365.60,284.35 L367.68,285.83 L368.98,286.64 L370.32,286.89 L372.26,288.39 L372.93,289.83 L373.21,291.16 L373.69,292.92 L375.02,293.78 L375.54,295.25 L376.09,297.05 L376.73,298.38 L377.98,300.20 L378.57,301.64 L378.86,302.88 L380.09,304.52 L380.56,305.69 L382.02,306.87 L382.82,308.25 L384.04,309.47 L384.90,310.73 L386.04,312.30 L386.95,313.41 L387.91,314.87 L388.92,316.50 L389.16,317.56 L390.35,318.71 L391.21,319.90 L392.74,321.33 L393.60,323.15 L394.02,324.18 L395.40,325.66 L395.73,327.08 L397.05,328.09 L397.98,329.62 L398.83,331.53 L399.95,332.46 L400.88,333.99 L401.46,335.48 L402.35,336.83 L403.75,338.47 L404.15,339.25 L405.43,340.60 L406.18,342.47 L407.57,343.96 L408.51,345.23 L409.30,346.56 L410.81,347.60 L411.65,349.16 L412.50,350.80 L413.95,351.31 L416.11,352.82 L417.38,353.03 L419.46,353.98 L420.86,355.00 L421.94,356.20 L422.59,357.67 L423.13,359.09 L423.66,360.98 L424.30,362.20 L425.59,363.70 L425.65,365.20 L426.65,366.66 L427.06,368.00 L427.30,370.10 L427.90,371.42 L428.74,372.34 L429.41,374.38 L429.26,375.83 L430.25,377.05 L430.16,378.52 L430.65,380.39 L431.99,381.55 L432.34,383.59 L432.60,384.90" fill="none" stroke="#dcd530" stroke-width="1.25" stroke-linejoin="round" />
<path d="M279.60,235.00 L281.37,234.68 L283.17,234.93 L284.91,235.09 L285.72,236.78 L285.78,238.41 L286.33,239.72 L287.21,241.48 L287.64,242.50 L288.39,244.18 L288.64,245.84 L289.10,247.88 L289.94,249.60 L290.01,250.83 L291.57,252.45 L292.68,253.32 L293.68,254.87 L294.69,256.37 L295.47,257.61 L296.71,258.88 L298.21,260.25 L299.05,261.93 L300.79,262.42 L301.73,263.01 L303.70,263.97 L305.15,264.68 L306.25,265.45 L307.96,266.20 L309.54,267.22 L311.26,268.06 L312.44,268.07 L313.83,269.20 L315.30,269.40 L317.06,269.81 L318.66,270.21 L320.43,270.38 L321.95,270.22 L323.31,269.63 L324.93,269.98 L326.43,269.39 L328.03,269.24 L330.18,269.52 L331.28,268.76 L332.88,268.90 L334.36,268.28 L335.86,267.35 L337.68,267.42 L339.45,266.76 L340.85,266.06 L342.78,265.72 L343.87,265.95 L345.93,265.34 L346.68,264.52 L349.00,264.76 L350.32,265.37 L351.76,265.63 L353.94,265.47 L355.89,265.80 L356.97,266.01 L359.00,266.73 L360.53,266.49 L361.16,268.25 L361.96,270.67 L361.82,272.19 L362.98,273.27 L363.00,275.12 L364.99,276.35 L365.70,277.31 L367.08,278.47 L369.13,279.33 L369.81,280.36 L371.71,280.75 L372.44,282.07 L374.03,282.83 L375.39,284.17 L376.54,284.77 L378.54,285.78 L378.76,287.06 L380.17,289.11 L380.85,289.82 L381.42,291.41 L382.19,293.39 L382.84,294.30 L383.95,295.76 L384.64,297.21 L384.78,299.07 L385.91,300.30 L386.37,301.50 L387.36,303.01 L388.59,304.59 L389.02,305.82 L389.24,307.09 L390.01,308.95 L390.98,310.58 L391.43,311.80 L392.02,312.93 L392.84,314.78 L393.25,316.00 L394.42,318.18 L394.82,318.93 L395.58,320.81 L395.53,322.57 L396.77,323.96 L397.39,325.49 L397.58,326.50 L398.80,328.59 L399.48,330.01 L399.61,331.73 L401.21,332.37 L402.41,333.06 L404.21,334.12 L405.04,335.78 L406.22,336.06 L407.50,337.48 L409.09,338.55 L410.33,339.80 L411.77,340.33 L413.51,341.37 L414.77,342.05 L415.44,343.63 L416.20,345.17 L416.95,346.75 L418.13,347.79 L418.57,349.27 L419.18,350.40 L420.01,352.29 L421.31,353.77 L422.16,354.63 L422.66,356.39 L423.31,358.17 L424.16,359.66 L424.83,361.11 L425.79,362.11 L426.23,363.68 L426.06,365.74 L426.66,367.67 L427.68,368.99 L428.26,370.16 L428.19,372.07 L428.88,373.42 L429.69,375.18 L430.18,376.58 L430.62,378.65 L431.33,380.23 L431.72,381.77 L432.29,383.51 L432.60,384.90" fill="none" stroke="#a8d08d" stroke-width="1.25" stroke-linejoin="round" />
<path d="M279.60,235.00 L279.90,236.45 L280.14,238.24 L280.10,239.43 L280.26,241.56 L280.29,242.93 L280.48,244.89 L281.12,246.56 L281.44,248.08 L281.60,249.13 L281.34,250.92 L281.45,252.65 L281.86,254.64 L281.88,255.84 L282.55,257.19 L282.00,258.79 L282.84,261.02 L282.87,262.17 L283.17,263.73 L283.41,266.06 L283.60,266.96 L283.36,268.69 L284.07,270.68 L283.84,271.91 L283.74,273.89 L284.08,275.43 L284.51,276.97 L285.05,278.17 L284.57,280.24 L284.62,282.10 L284.89,283.79 L285.62,285.26 L285.31,286.26 L286.20,288.12 L286.34,289.46 L286.18,291.53 L286.56,292.88 L286.41,295.01 L287.14,296.02 L286.83,297.67 L286.85,299.42 L287.49,301.24 L287.31,302.43 L287.90,304.42 L288.16,306.20 L288.25,307.59 L287.91,309.32 L288.58,310.72 L288.47,312.51 L289.14,313.92 L288.80,316.07 L289.29,317.31 L289.71,318.54 L289.33,320.58 L289.60,322.32 L290.01,324.07 L290.24,325.50 L290.42,326.87 L290.37,328.98 L291.13,330.03 L290.53,331.47 L291.51,333.42 L291.47,335.23 L291.39,336.45 L291.86,338.62 L292.10,340.17 L292.33,341.15 L292.36,343.35 L292.72,344.39 L292.70,346.40 L292.88,347.86 L293.03,349.24 L293.50,351.64 L293.37,353.08 L294.03,354.55 L294.11,356.46 L294.32,357.73 L294.41,359.49 L294.31,360.93 L294.37,362.29 L296.16,361.83 L297.05,360.25 L298.18,359.46 L299.60,358.10 L301.08,356.65 L302.06,356.21 L303.43,355.22 L304.51,354.08 L306.31,352.74 L307.28,351.43 L308.60,350.63 L309.85,351.43 L311.78,352.20 L312.99,352.50 L315.06,352.83 L316.23,351.72 L317.06,350.08 L318.34,348.97 L319.51,348.20 L320.69,346.72 L321.46,344.89 L322.80,343.94 L323.54,342.29 L324.26,341.54 L325.72,339.78 L326.73,338.61 L328.21,337.16 L329.03,335.84 L330.06,335.03 L330.67,333.87 L332.01,331.79 L332.94,331.15 L334.09,329.66 L335.29,328.44 L336.19,326.84 L337.77,325.84 L338.46,325.07 L340.19,323.29 L340.99,322.37 L341.97,320.67 L342.91,319.98 L344.30,318.41 L345.81,317.58 L346.42,315.80 L347.67,315.36 L348.93,313.73 L349.81,312.18 L350.97,311.57 L352.17,310.12 L354.28,310.98 L355.33,311.11 L357.57,311.11 L359.08,312.28 L360.58,311.50 L362.03,311.05 L363.44,310.77 L365.46,310.10 L367.17,310.51 L368.93,310.18 L370.42,309.11 L371.80,309.20 L373.07,310.51 L374.12,311.55 L375.73,312.90 L377.20,313.55 L378.03,315.29 L379.77,315.75 L380.66,317.57 L382.33,318.06 L383.34,319.73 L384.48,320.46 L386.19,321.60 L386.92,323.24 L388.34,324.35 L389.12,325.33 L390.30,326.77 L391.40,328.14 L392.75,328.81 L393.80,330.49 L395.63,331.01 L396.60,332.82 L397.43,334.00 L399.15,334.38 L399.82,335.46 L401.75,336.62 L402.70,337.28 L403.74,338.25 L405.66,339.21 L407.07,340.43 L408.25,341.54 L409.36,342.48 L410.74,343.53 L411.73,344.17 L413.28,345.07 L414.88,346.58 L414.81,347.99 L415.43,349.39 L416.34,351.38 L416.36,353.20 L417.22,355.10 L417.57,356.29 L417.75,357.82 L418.13,359.97 L418.86,361.84 L420.12,362.41 L421.80,363.38 L423.58,363.80 L424.87,364.94 L426.16,365.91 L427.51,367.28 L427.90,368.86 L428.21,370.42 L428.88,371.96 L429.50,373.49 L430.04,374.80 L430.12,377.06 L430.88,378.70 L430.86,379.97 L431.27,381.84 L432.32,383.30 L432.60,384.90" fill="none" stroke="#e0504a" stroke-width="1.25" stroke-linejoin="round" />
<path d="M279.60,235.00 L279.93,236.49 L279.69,238.10 L280.63,239.79 L280.68,241.18 L280.80,242.97 L280.81,244.49 L281.02,246.63 L281.62,247.95 L282.10,249.71 L281.95,251.49 L282.42,253.17 L282.43,254.28 L282.51,256.28 L283.23,257.90 L283.28,259.61 L283.84,261.13 L283.49,262.76 L286.05,261.70 L287.41,260.63 L289.05,259.30 L290.28,261.18 L290.98,262.35 L291.30,264.35 L291.79,265.60 L292.77,266.87 L293.74,268.73 L294.15,270.32 L295.35,271.26 L296.08,272.92 L296.89,274.19 L297.86,275.81 L299.20,277.16 L301.17,278.66 L301.82,279.46 L303.46,278.54 L304.65,277.22 L305.37,276.06 L306.03,274.94 L307.46,273.66 L308.93,272.74 L309.32,270.96 L310.31,269.89 L311.85,269.19 L313.91,268.77 L315.07,268.21 L316.65,267.54 L318.22,267.10 L319.53,266.42 L320.93,265.54 L322.82,265.87 L324.54,266.24 L326.61,266.51 L327.88,266.25 L329.68,266.62 L331.67,266.51 L332.64,265.84 L334.69,265.07 L335.92,264.16 L337.45,263.44 L338.71,263.14 L340.11,262.70 L341.65,261.37 L343.37,260.86 L344.70,260.45 L345.99,259.50 L347.88,259.45 L348.87,258.12 L349.70,259.59 L350.44,261.49 L351.63,262.67 L352.32,264.25 L353.09,266.00 L353.70,267.14 L354.80,268.39 L355.58,269.93 L357.03,271.13 L357.84,272.44 L358.96,274.10 L360.30,275.60 L362.06,275.46 L363.46,276.81 L365.37,277.32 L366.36,277.20 L367.88,278.23 L370.04,278.27 L370.65,279.79 L372.10,280.87 L373.51,282.52 L374.64,283.51 L375.89,284.52 L377.41,285.26 L379.09,286.97 L380.06,288.38 L381.39,288.82 L382.43,290.11 L384.41,291.75 L385.61,292.74 L386.85,293.16 L388.68,294.83 L390.06,295.85 L391.05,296.78 L392.24,298.13 L394.28,298.58 L395.51,299.65 L396.29,301.37 L397.16,302.61 L398.64,304.35 L399.46,305.71 L399.99,306.87 L401.22,308.55 L401.70,309.77 L403.16,310.98 L403.97,312.40 L404.89,313.74 L405.46,315.13 L406.31,316.83 L406.94,318.06 L407.61,319.63 L408.33,321.39 L408.28,322.57 L409.18,323.84 L409.75,325.15 L410.99,326.70 L411.56,328.65 L411.72,329.75 L412.84,331.32 L412.79,332.97 L413.72,334.21 L414.27,335.96 L414.74,338.11 L415.48,339.28 L416.03,341.03 L416.22,342.76 L416.73,344.34 L417.75,346.21 L417.76,347.22 L418.66,348.80 L419.03,350.90 L420.13,352.52 L420.78,353.92 L421.28,355.38 L422.49,356.54 L423.04,358.22 L423.60,359.99 L424.12,361.23 L425.34,363.47 L425.67,364.40 L426.82,366.08 L427.28,367.83 L428.11,369.13 L428.51,370.70 L428.80,372.22 L429.07,374.21 L429.45,375.53 L430.49,377.13 L430.49,378.68 L431.44,380.19 L431.79,381.57 L431.97,383.71 L432.60,384.90" fill="none" stroke="#b02a78" stroke-width="1.25" stroke-linejoin="round" />
<path d="M279.60,235.00 L281.47,234.87 L282.75,234.87 L285.23,234.94 L285.66,236.28 L286.18,238.02 L286.58,239.48 L287.18,241.56 L288.17,242.83 L289.04,244.54 L289.28,246.27 L290.14,247.89 L290.55,248.95 L291.02,250.89 L292.13,252.46 L292.56,254.12 L293.52,255.59 L293.56,257.16 L294.98,258.65 L296.33,259.29 L297.97,259.67 L300.28,260.77 L301.87,260.30 L303.09,260.65 L304.47,260.26 L306.34,259.89 L308.19,260.10 L309.51,260.05 L311.60,259.35 L313.22,259.36 L314.53,259.80 L316.00,260.59 L317.84,261.10 L320.31,261.77 L321.45,261.74 L323.81,262.50 L325.21,263.69 L326.14,265.04 L327.02,266.44 L328.66,267.66 L330.35,269.26 L331.46,268.85 L333.16,269.16 L334.97,269.26 L337.31,269.66 L338.75,269.91 L340.60,270.05 L342.45,269.88 L344.04,269.45 L345.71,268.84 L347.64,268.58 L349.41,268.36 L351.52,268.05 L352.88,268.01 L354.77,268.60 L357.11,269.58 L358.44,270.00 L360.85,270.31 L361.79,271.12 L363.04,272.13 L364.01,273.55 L365.13,274.82 L366.39,275.21 L367.83,276.42 L368.87,277.73 L369.89,278.50 L371.49,280.18 L372.20,280.56 L373.42,281.64 L374.56,283.14 L376.15,283.92 L377.01,285.44 L377.95,287.12 L378.73,288.20 L380.00,289.39 L380.95,290.86 L382.15,292.17 L382.71,293.60 L383.58,295.38 L384.67,296.99 L385.88,297.70 L386.71,299.90 L388.17,301.32 L388.70,302.12 L389.76,304.07 L391.46,305.03 L391.86,306.84 L393.09,308.21 L394.38,309.82 L395.40,310.77 L396.53,311.74 L397.93,312.45 L399.49,314.11 L400.35,315.48 L401.57,315.88 L402.49,317.13 L404.21,318.85 L405.15,319.90 L406.13,320.40 L407.47,322.36 L408.36,323.68 L408.86,324.90 L409.55,326.54 L411.10,327.29 L411.84,328.65 L412.61,330.33 L413.46,331.55 L414.93,333.25 L415.74,334.58 L416.24,335.71 L417.47,337.35 L417.93,338.53 L419.38,339.71 L420.17,341.10 L421.37,342.33 L421.66,343.87 L422.23,345.71 L422.57,347.10 L422.96,348.82 L423.40,350.73 L423.07,352.06 L423.69,353.49 L423.98,354.95 L424.93,356.65 L425.23,358.75 L425.11,360.00 L425.94,361.71 L425.74,363.36 L426.51,364.60 L426.90,366.36 L427.21,368.50 L427.80,369.66 L428.37,371.47 L428.59,373.25 L429.12,374.88 L430.17,376.80 L430.21,377.86 L431.13,379.49 L431.53,381.65 L432.41,383.40 L432.60,384.90" fill="none" stroke="#2e86b8" stroke-width="1.25" stroke-linejoin="round" />
<path d="M279.60,235.00 L281.47,234.87 L282.75,234.87 L285.23,234.94 L285.66,236.28 L286.18,238.02 L286.58,239.48 L287.18,241.56 L288.17,242.83 L289.04,244.54 L289.28,246.27 L290.14,247.89 L290.55,248.95 L291.02,250.89 L292.13,252.46 L292.56,254.12 L293.52,255.59 L293.56,257.16 L294.98,258.65 L296.33,257.82 L297.97,256.73 L300.28,256.38 L301.87,255.76 L303.09,255.98 L304.47,255.45 L306.34,254.94 L308.19,255.02 L309.51,254.83 L311.60,253.99 L313.22,253.86 L314.33,253.54 L315.60,253.56 L317.24,253.32 L319.52,253.22 L320.47,252.43 L322.63,252.42 L324.33,252.02 L325.56,251.78 L326.84,251.53 L328.88,251.11 L330.96,251.06 L331.97,250.14 L333.57,249.94 L335.28,249.53 L337.52,249.42 L338.85,249.16 L340.60,248.79 L342.45,249.48 L344.04,249.91 L345.71,250.15 L347.64,250.75 L349.41,251.38 L351.52,251.93 L352.57,252.00 L354.16,252.69 L356.20,253.78 L357.22,254.31 L359.32,254.73 L360.59,255.02 L363.39,256.06 L364.37,257.53 L365.49,258.86 L366.75,259.29 L368.20,260.55 L369.25,261.91 L370.27,262.73 L371.87,264.46 L372.59,264.90 L373.82,266.03 L374.96,267.59 L376.55,268.42 L377.64,269.66 L378.82,271.06 L379.83,271.86 L381.33,272.77 L382.51,273.96 L384.52,274.06 L385.89,274.28 L387.57,274.84 L389.47,275.23 L391.49,274.72 L393.14,275.71 L394.84,276.65 L395.62,276.97 L396.92,278.44 L398.87,278.92 L399.52,280.25 L401.00,281.14 L402.44,282.61 L403.61,283.41 L404.89,284.24 L406.44,284.80 L408.15,286.32 L409.16,287.54 L410.52,287.80 L411.35,289.33 L412.97,291.34 L413.81,292.68 L414.69,293.47 L416.17,295.50 L417.19,296.88 L417.83,298.17 L418.65,299.88 L420.34,301.11 L421.21,302.94 L421.43,304.88 L421.74,306.34 L422.66,308.29 L422.92,309.87 L422.88,311.24 L423.55,313.14 L423.46,314.57 L424.37,316.00 L424.61,317.63 L425.26,319.11 L425.57,320.63 L426.08,322.52 L426.38,323.95 L426.72,325.72 L427.11,327.67 L426.73,329.06 L427.30,330.52 L427.55,332.03 L428.45,333.78 L428.70,335.92 L428.53,337.23 L429.32,338.98 L429.06,340.68 L429.79,341.96 L429.91,343.74 L429.95,345.90 L430.28,347.08 L430.40,348.86 L430.17,350.60 L430.25,352.19 L430.85,354.08 L430.44,355.11 L430.91,356.70 L430.86,358.82 L431.29,360.54 L431.28,362.04 L431.11,363.61 L431.65,364.87 L431.53,366.66 L431.43,368.53 L431.28,369.87 L431.83,372.21 L431.50,373.25 L431.97,375.03 L431.77,376.88 L432.25,378.25 L432.30,379.89 L432.24,381.47 L432.17,383.54 L432.60,384.90" fill="none" stroke="#2e86b8" stroke-width="1.25" stroke-linejoin="round" />
<path d="M275.20,357.30 L283.70,357.30" fill="none" stroke="#2e86b8" stroke-width="1.2" stroke-linejoin="round" />
<text x="286.00" y="357.30" font-size="3.83" text-anchor="start" dominant-baseline="central" fill="#1a1a1a" font-family="&quot;Liberation Serif&quot;, serif" stroke="#1a1a1a" stroke-width="0.07">XGBoost (AP = 0.91 95%CI (0.871-0.948))</text>
<path d="M275.20,362.65 L283.70,362.65" fill="none" stroke="#a8d08d" stroke-width="1.2" stroke-linejoin="round" />
<text x="286.00" y="362.65" font-size="3.83" text-anchor="start" dominant-baseline="central" fill="#1a1a1a" font-family="&quot;Liberation Serif&quot;, serif" stroke="#1a1a1a" stroke-width="0.07">LR(AP = 0.852 95%CI (0.809-0.895))</text>
<path d="M275.20,368.00 L283.70,368.00" fill="none" stroke="#e0504a" stroke-width="1.2" stroke-linejoin="round" />
<text x="286.00" y="368.00" font-size="3.83" text-anchor="start" dominant-baseline="central" fill="#1a1a1a" font-family="&quot;Liberation Serif&quot;, serif" stroke="#1a1a1a" stroke-width="0.07">LightGBM (AP = 0.744 95%CI (0.703-0.785))</text>
<path d="M275.20,373.35 L283.70,373.35" fill="none" stroke="#b02a78" stroke-width="1.2" stroke-linejoin="round" />
<text x="286.00" y="373.35" font-size="3.83" text-anchor="start" dominant-baseline="central" fill="#1a1a1a" font-family="&quot;Liberation Serif&quot;, serif" stroke="#1a1a1a" stroke-width="0.07">AdaBoost (AP = 0.859 95%CI (0.826-0.892))</text>
<path d="M275.20,378.70 L283.70,378.70" fill="none" stroke="#dcd530" stroke-width="1.2" stroke-linejoin="round" />
<text x="286.00" y="378.70" font-size="3.83" text-anchor="start" dominant-baseline="central" fill="#1a1a1a" font-family="&quot;Liberation Serif&quot;, serif" stroke="#1a1a1a" stroke-width="0.07">GNB (AP = 0.824 95%CI (0.788-0.86))</text>
<path d="M275.20,384.05 L283.70,384.05" fill="none" stroke="#aadcea" stroke-width="1.2" stroke-linejoin="round" />
<text x="286.00" y="384.05" font-size="3.83" text-anchor="start" dominant-baseline="central" fill="#1a1a1a" font-family="&quot;Liberation Serif&quot;, serif" stroke="#1a1a1a" stroke-width="0.07">MLP (AP = 0.790 95%CI (0.733-0.850))</text>
<path d="M275.20,389.40 L283.70,389.40" fill="none" stroke="#2e86b8" stroke-width="1.2" stroke-linejoin="round" />
<text x="286.00" y="389.40" font-size="3.83" text-anchor="start" dominant-baseline="central" fill="#1a1a1a" font-family="&quot;Liberation Serif&quot;, serif" stroke="#1a1a1a" stroke-width="0.07">SVM (AP = 0.864 95%CI (0.839-0.89))</text>
<rect x="500.50" y="9.40" width="180.10" height="179.00" fill="none" stroke="#d4d4d4" stroke-width="1.0"/>
<text x="590.50" y="4.60" font-size="7.5" text-anchor="middle" dominant-baseline="central" fill="#1a1a1a" font-family="&quot;Liberation Serif&quot;, serif" stroke="#1a1a1a" stroke-width="0.16">Decision Curve</text>
<text x="508.40" y="195.60" font-size="7.6" text-anchor="middle" dominant-baseline="central" fill="#1a1a1a" font-family="&quot;Liberation Serif&quot;, serif" stroke="#1a1a1a" stroke-width="0.14">0</text>
<text x="541.44" y="195.60" font-size="7.6" text-anchor="middle" dominant-baseline="central" fill="#1a1a1a" font-family="&quot;Liberation Serif&quot;, serif" stroke="#1a1a1a" stroke-width="0.14">20</text>
<text x="574.48" y="195.60" font-size="7.6" text-anchor="middle" dominant-baseline="central" fill="#1a1a1a" font-family="&quot;Liberation Serif&quot;, serif" stroke="#1a1a1a" stroke-width="0.14">40</text>
<text x="607.52" y="195.60" font-size="7.6" text-anchor="middle" dominant-baseline="central" fill="#1a1a1a" font-family="&quot;Liberation Serif&quot;, serif" stroke="#1a1a1a" stroke-width="0.14">60</text>
<text x="640.56" y="195.60" font-size="7.6" text-anchor="middle" dominant-baseline="central" fill="#1a1a1a" font-family="&quot;Liberation Serif&quot;, serif" stroke="#1a1a1a" stroke-width="0.14">80</text>
<text x="673.60" y="195.60" font-size="7.6" text-anchor="middle" dominant-baseline="central" fill="#1a1a1a" font-family="&quot;Liberation Serif&quot;, serif" stroke="#1a1a1a" stroke-width="0.14">100</text>
<text x="498.00" y="189.07" font-size="7.6" text-anchor="end" dominant-baseline="central" fill="#1a1a1a" font-family="&quot;Liberation Serif&quot;, serif" stroke="#1a1a1a" stroke-width="0.14">-0.05</text>
<text x="498.00" y="175.90" font-size="7.6" text-anchor="end" dominant-baseline="central" fill="#1a1a1a" font-family="&quot;Liberation Serif&quot;, serif" stroke="#1a1a1a" stroke-width="0.14">0.00</text>
<text x="498.00" y="120.59" font-size="7.6" text-anchor="end" dominant-baseline="central" fill="#1a1a1a" font-family="&quot;Liberation Serif&quot;, serif" stroke="#1a1a1a" stroke-width="0.14">0.21</text>
<text x="498.00" y="65.27" font-size="7.6" text-anchor="end" dominant-baseline="central" fill="#1a1a1a" font-family="&quot;Liberation Serif&quot;, serif" stroke="#1a1a1a" stroke-width="0.14">0.42</text>
<text x="498.00" y="10.70" font-size="6.9" text-anchor="end" dominant-baseline="central" fill="#333" font-family="&quot;Liberation Sans&quot;, sans-serif" stroke="#333" stroke-width="0.14">0.63</text>
<text x="595.50" y="203.70" font-size="7.45" text-anchor="middle" dominant-baseline="central" fill="#1a1a1a" font-family="&quot;Liberation Serif&quot;, serif" stroke="#1a1a1a" stroke-width="0.16">Threshold Probability(%)</text>
<text x="477.50" y="95.00" font-size="7.44" text-anchor="middle" dominant-baseline="central" fill="#1a1a1a" font-family="&quot;Liberation Serif&quot;, serif" transform="rotate(-90 477.50 95.00)" stroke="#1a1a1a" stroke-width="0.14">Mean Net Benefit</text>
<path d="M508.40,21.74 L509.74,22.71 L511.25,23.75 L512.99,24.94 L514.32,25.86 L515.79,27.23 L517.38,28.37 L518.76,29.01 L520.49,30.42 L522.21,31.85 L523.58,32.75 L525.22,34.08 L526.46,35.23 L527.82,36.78 L529.37,37.78 L531.23,39.36 L532.74,40.77 L534.37,42.35 L535.99,43.42 L537.14,44.77 L538.70,46.29 L540.52,48.13 L541.62,49.70 L543.41,50.95 L545.00,52.93 L546.31,54.78 L547.60,55.95 L549.50,58.05 L550.58,59.87 L552.45,61.58 L553.69,63.70 L555.29,65.04 L556.02,66.53 L557.41,68.01 L558.65,69.33 L559.83,71.25 L560.52,72.49 L562.04,74.26 L563.26,76.24 L564.02,77.89 L565.12,79.51 L566.24,81.45 L567.35,83.28 L568.62,84.82 L569.57,86.69 L570.72,88.62 L572.41,90.79 L572.80,92.14 L573.91,94.29 L574.82,95.65 L575.86,97.19 L576.48,99.12 L577.78,100.92 L578.36,102.81 L579.58,104.45 L580.10,106.47 L581.12,108.11 L581.81,110.23 L582.56,111.62 L583.76,113.33 L584.52,115.31 L585.00,116.78 L585.48,118.43 L586.54,120.67 L587.03,122.46 L588.32,124.37 L588.82,126.13 L589.48,127.62 L590.27,129.94 L590.73,131.58 L591.36,133.17 L592.48,134.91 L593.00,136.85 L593.44,139.05 L594.19,140.62 L595.11,142.48 L595.22,144.05 L596.21,145.81 L596.34,147.57 L597.02,149.45 L597.51,151.43 L598.58,152.81 L598.88,154.60 L599.51,156.39 L599.81,154.37 L600.50,152.67 L601.60,150.91 L602.07,148.85 L603.05,147.45 L603.30,145.23 L604.16,143.36 L604.62,141.73 L605.25,143.23 L605.24,145.56 L605.83,147.30 L606.41,149.03 L606.81,151.48 L606.85,153.13 L606.95,155.21 L607.49,156.96 L607.86,158.75 L607.98,161.20 L608.18,163.17 L608.57,164.97 L609.17,166.52 L609.51,168.49 L609.43,170.61 L609.84,172.84 L609.95,174.58 L610.58,175.05 L612.49,175.39 L614.43,175.54 L616.37,175.50 L618.00,175.23 L620.24,175.60 L621.70,175.32 L623.92,175.51 L625.80,175.24 L627.68,175.40 L629.25,175.19 L630.94,175.18 L632.85,175.54 L634.92,175.47 L636.97,175.44 L638.33,175.40 L640.36,175.15 L642.19,175.04 L644.41,175.07 L645.86,175.57 L648.12,175.30 L649.56,175.54 L651.30,175.32 L653.14,175.51 L655.42,175.18 L656.83,175.06 L658.87,175.18 L661.04,175.48 L662.48,175.60 L664.60,175.21 L666.39,175.02 L667.97,175.31 L670.26,175.59 L671.95,175.30" fill="none" stroke="#6F99AD" stroke-width="1.0" stroke-linejoin="round" />
<path d="M508.40,21.74 L509.99,22.87 L511.75,24.08 L513.74,25.48 L515.32,26.56 L517.05,28.15 L518.88,29.50 L520.52,30.35 L522.50,31.97 L524.46,33.68 L526.08,34.78 L527.97,36.38 L529.47,37.81 L531.08,39.63 L532.87,40.90 L534.99,42.83 L536.75,44.51 L538.63,46.45 L540.50,47.87 L541.90,49.57 L543.71,51.45 L545.78,53.75 L547.13,55.67 L548.59,56.69 L549.83,58.45 L550.81,59.96 L551.75,60.87 L553.31,62.71 L554.06,64.14 L555.59,65.55 L556.49,67.36 L558.13,68.75 L558.91,70.39 L560.34,72.03 L561.61,73.50 L562.84,75.55 L563.56,76.93 L565.13,78.83 L566.38,81.06 L567.19,82.82 L568.33,84.55 L569.49,86.73 L570.64,88.80 L571.95,90.43 L572.64,91.99 L573.54,93.61 L574.97,95.48 L575.34,96.76 L576.43,98.96 L577.31,100.38 L578.32,101.97 L578.92,103.94 L580.42,105.35 L581.21,106.84 L582.63,108.09 L583.36,109.71 L584.30,107.55 L585.05,106.03 L585.87,103.77 L587.14,101.84 L587.96,100.17 L587.90,97.88 L587.85,95.77 L588.37,94.07 L588.32,91.91 L589.07,89.88 L589.03,87.70 L590.58,87.04 L590.84,89.43 L590.86,91.23 L591.07,92.99 L591.76,94.89 L591.85,96.99 L591.86,99.35 L592.18,101.09 L592.67,103.11 L592.43,104.86 L594.33,104.07 L594.07,105.87 L594.34,107.78 L594.42,109.80 L595.09,111.22 L594.98,113.04 L595.21,114.86 L595.00,116.51 L595.17,118.48 L595.76,120.40 L595.71,122.01 L596.17,124.28 L595.90,125.74 L596.25,127.53 L596.18,129.62 L596.61,131.02 L596.42,133.27 L596.82,134.92 L597.21,136.56 L597.43,138.93 L597.28,140.49 L597.22,142.47 L597.61,144.13 L597.82,145.82 L597.78,148.18 L597.82,150.05 L598.06,151.75 L598.50,153.21 L598.68,155.08 L599.08,157.37 L599.98,159.77 L600.57,161.67 L601.32,163.46 L603.25,164.06 L605.19,164.48 L607.14,164.70 L608.78,164.69 L611.31,165.76 L613.06,166.19 L615.58,167.08 L617.70,166.55 L619.82,166.44 L621.63,165.97 L622.57,167.89 L623.73,170.18 L625.05,172.04 L628.38,172.54 L630.37,174.88 L632.37,175.15 L634.22,175.04 L636.47,175.07 L637.94,175.57 L640.24,175.30 L641.71,175.54 L643.47,175.32 L645.35,175.51 L647.64,175.18 L649.09,175.06 L651.15,175.18 L653.36,175.48 L654.82,175.60 L656.97,175.21 L658.78,175.02 L660.40,175.31 L662.71,175.59 L664.13,175.27 L666.33,175.16 L668.02,175.00 L670.29,175.15 L671.95,175.30" fill="none" stroke="#20854E" stroke-width="1.0" stroke-linejoin="round" />
<path d="M508.40,21.74 L509.08,23.38 L509.92,25.10 L511.00,26.96 L511.67,28.50 L512.47,30.49 L513.40,32.24 L514.67,33.30 L516.28,35.12 L517.89,36.97 L519.15,38.21 L520.13,40.15 L520.71,41.91 L521.42,43.99 L522.30,45.52 L523.51,47.62 L524.94,49.04 L526.48,50.63 L528.01,51.70 L529.07,52.95 L530.55,54.38 L532.28,56.13 L533.27,57.41 L534.95,58.37 L536.42,60.07 L537.62,61.51 L538.80,62.29 L540.58,63.98 L541.57,65.07 L543.34,66.07 L544.47,67.46 L546.35,68.43 L547.36,69.55 L549.03,70.66 L550.54,71.62 L552.13,73.14 L553.22,74.00 L555.15,75.37 L556.80,76.75 L558.01,77.66 L559.55,78.55 L561.11,79.75 L562.66,80.84 L564.37,81.49 L565.76,82.47 L567.35,83.50 L569.48,84.78 L570.54,85.39 L572.33,86.79 L573.90,87.41 L575.61,88.21 L576.90,89.39 L578.87,90.29 L580.12,91.27 L582.00,92.01 L583.19,93.12 L584.71,94.09 L586.04,95.71 L587.43,96.58 L589.29,97.78 L590.69,99.25 L591.81,100.21 L593.16,101.38 L595.08,102.95 L596.43,104.06 L598.58,105.31 L599.93,106.40 L601.26,107.46 L602.73,109.33 L603.97,110.62 L605.38,111.86 L607.28,113.26 L608.59,114.84 L610.03,116.43 L611.78,117.39 L613.70,118.63 L614.90,119.62 L616.97,120.79 L618.19,121.97 L619.71,123.47 L621.04,125.08 L622.96,126.09 L624.11,127.50 L625.59,128.92 L626.62,130.16 L628.05,131.71 L629.75,133.15 L630.82,134.27 L632.39,136.05 L633.24,137.02 L634.62,138.53 L635.60,140.28 L637.09,141.36 L637.95,143.27 L639.20,144.87 L640.44,146.44 L641.51,148.74 L642.21,150.23 L642.92,152.13 L644.08,153.70 L645.07,155.30 L645.81,157.57 L646.62,159.35 L647.63,160.97 L648.85,162.34 L649.81,164.13 L650.34,166.06 L650.87,168.20 L651.08,169.84 L651.46,171.36 L651.94,173.54 L652.44,175.54 L652.94,177.34 L653.13,178.91 L653.93,181.13 L653.95,182.69 L654.73,184.72 L655.17,186.30 L655.43,188.21" fill="none" stroke="#7876B1" stroke-width="1.0" stroke-linejoin="round" />
<path d="M508.40,21.74 L508.76,23.27 L508.67,25.33 L508.87,27.08 L508.93,28.73 L509.04,30.69 L508.62,32.44 L508.96,34.06 L508.88,35.84 L508.76,37.74 L508.93,39.60 L509.32,41.49 L509.44,43.58 L510.17,45.38 L510.68,47.00 L511.56,48.70 L511.82,50.46 L513.83,51.11 L515.34,51.97 L517.48,53.20 L519.23,53.83 L520.63,54.83 L522.78,56.39 L524.44,57.43 L526.02,58.69 L528.00,59.67 L530.09,60.39 L532.15,61.12 L534.32,62.00 L535.94,62.84 L538.27,63.59 L539.93,64.50 L542.04,64.91 L543.86,66.11 L545.80,66.98 L547.57,67.67 L549.16,68.92 L551.06,70.21 L553.37,71.25 L554.73,72.30 L556.98,73.55 L559.09,75.01 L560.66,76.19 L562.16,77.20 L563.80,78.40 L565.96,79.30 L567.60,80.95 L569.09,81.62 L570.62,82.96 L572.10,83.89 L573.79,84.84 L575.74,85.86 L576.90,86.65 L578.56,87.81 L580.12,88.35 L581.77,89.27 L583.23,90.61 L584.62,91.72 L586.31,93.19 L587.54,94.86 L588.72,96.26 L590.06,97.80 L591.64,98.93 L593.14,100.55 L594.82,101.79 L596.06,103.78 L597.35,105.11 L599.17,106.46 L599.99,107.98 L601.43,109.25 L603.08,110.55 L604.06,111.85 L605.22,113.43 L606.54,115.44 L607.25,116.84 L608.80,118.57 L609.58,120.00 L610.93,121.58 L612.22,123.39 L613.31,124.50 L613.84,126.36 L615.13,127.75 L615.88,129.64 L617.17,130.76 L617.72,132.76 L618.85,134.00 L620.12,135.69 L620.56,137.32 L621.71,139.04 L622.88,140.28 L623.86,143.01 L625.02,145.24 L626.10,147.23 L626.77,148.86 L627.80,151.01 L628.22,153.18 L629.51,155.58 L630.67,157.90 L631.30,159.64 L631.47,161.54 L632.08,163.51 L632.42,165.44 L633.16,166.97 L633.77,169.06 L633.95,170.87 L634.40,173.05 L635.20,174.75 L635.52,176.70 L635.84,178.90 L636.58,180.34 L637.03,182.45 L637.75,184.52" fill="none" stroke="#E18727" stroke-width="1.0" stroke-linejoin="round" />
<path d="M508.40,21.74 L509.96,22.85 L511.69,24.03 L513.64,25.41 L515.19,26.47 L516.88,28.03 L518.68,29.35 L520.29,30.17 L522.23,31.76 L524.16,33.44 L525.75,34.50 L527.61,36.07 L529.07,37.46 L530.65,39.24 L532.41,40.48 L534.49,42.36 L536.22,44.00 L538.07,45.89 L539.90,47.27 L541.27,48.92 L543.05,50.74 L545.33,51.63 L546.90,52.13 L549.16,52.32 L551.15,53.92 L552.88,55.28 L554.57,55.96 L556.30,57.77 L557.21,59.17 L558.91,60.46 L559.98,62.15 L561.78,63.43 L562.73,64.85 L564.33,66.26 L565.93,67.49 L567.50,69.19 L568.56,70.22 L570.46,71.77 L572.05,73.54 L573.19,74.83 L574.59,75.81 L576.02,77.12 L577.43,78.32 L579.00,79.07 L580.25,80.15 L581.70,81.29 L583.69,82.68 L584.86,83.61 L586.75,85.34 L588.43,86.29 L590.24,87.42 L591.64,88.92 L593.46,90.33 L594.56,91.82 L596.30,93.08 L597.34,94.70 L598.89,95.94 L600.24,97.82 L601.86,98.55 L603.92,99.63 L605.54,100.96 L606.88,101.79 L608.22,102.80 L611.66,103.42 L613.16,103.94 L615.45,104.59 L616.95,105.08 L618.28,106.09 L619.75,107.93 L620.98,109.17 L622.40,110.37 L624.30,111.72 L625.60,113.26 L626.58,115.11 L627.86,116.34 L629.32,117.84 L630.04,119.09 L631.64,120.53 L632.39,121.97 L633.36,124.03 L634.14,126.20 L635.50,127.76 L636.09,129.73 L637.01,131.70 L638.00,133.48 L639.39,135.58 L641.19,137.62 L641.44,139.48 L642.20,142.00 L642.23,143.71 L642.87,145.76 L643.11,148.05 L644.40,149.46 L645.06,151.70 L646.30,153.36 L647.87,150.26 L648.47,152.60 L648.71,154.13 L649.03,156.10 L649.80,157.73 L650.39,159.39 L650.74,161.73 L651.16,163.57 L651.78,165.26 L652.60,166.69 L653.17,168.54 L653.31,170.54 L654.55,169.15 L655.48,167.25 L656.57,165.25 L657.76,163.90 L658.97,162.37 L659.63,164.30 L659.99,166.01 L660.95,168.35 L661.13,170.05 L662.08,172.21 L662.53,173.98" fill="none" stroke="#FFDC91" stroke-width="1.0" stroke-linejoin="round" />
<path d="M508.40,21.74 L510.08,22.59 L511.28,23.87 L512.72,25.05 L514.67,25.68 L516.15,27.08 L517.65,28.46 L519.39,29.30 L520.83,30.69 L522.44,31.44 L523.94,32.77 L524.99,34.25 L526.94,35.73 L528.18,36.96 L529.51,38.36 L531.20,39.47 L532.62,40.54 L534.08,42.31 L535.94,43.87 L537.64,45.13 L539.17,46.49 L540.97,47.86 L542.78,49.28 L544.25,50.70 L545.80,51.77 L547.32,53.55 L548.25,54.76 L549.67,56.37 L551.27,57.35 L552.23,58.75 L553.60,60.65 L554.78,61.82 L555.63,62.89 L557.00,64.23 L558.19,66.11 L559.57,67.44 L561.07,68.71 L562.41,70.02 L563.32,71.24 L564.58,72.29 L565.62,73.93 L567.14,75.49 L568.44,76.72 L569.59,77.89 L571.03,78.88 L571.80,80.43 L573.20,81.75 L574.84,82.85 L576.63,84.36 L578.37,85.26 L580.54,86.75 L581.56,88.33 L583.26,89.59 L584.78,90.62 L586.05,91.62 L587.81,93.08 L589.19,94.03 L591.14,95.65 L592.80,96.66 L594.75,97.61 L596.50,98.26 L598.44,98.38 L599.75,99.02 L601.48,99.57 L603.46,100.06 L605.26,100.46 L607.27,101.41 L609.10,102.30 L611.80,103.44 L613.03,105.49 L614.20,107.98 L615.38,109.44 L616.85,110.95 L617.54,112.04 L618.81,113.59 L620.09,114.63 L621.23,115.93 L622.58,117.43 L623.62,119.42 L624.63,120.74 L625.24,122.62 L626.14,124.16 L627.44,125.73 L628.03,127.02 L628.79,129.18 L629.56,130.25 L631.04,132.65 L632.19,134.84 L633.16,136.23 L634.66,137.88 L635.44,139.27 L637.08,140.51 L637.84,141.69 L639.53,143.19 L639.77,145.21 L641.14,147.81 L641.87,149.82 L642.73,151.34 L643.74,153.26 L645.19,154.91 L646.46,156.11 L647.08,158.23 L648.03,159.40 L648.69,161.48 L649.39,162.59 L650.52,164.55 L651.05,166.06 L651.36,164.29 L651.76,162.29 L652.50,160.45 L652.53,158.22 L654.44,160.02 L656.42,162.11 L659.03,160.43 L659.68,162.32 L660.02,163.99 L660.30,165.71 L660.88,167.92 L661.64,169.40 L661.76,171.25 L662.64,173.04 L663.22,171.30 L664.14,169.90 L664.64,168.48 L665.97,169.48 L667.37,171.30 L668.62,172.71 L669.86,173.76 L671.12,175.30" fill="none" stroke="#0072B5" stroke-width="1.0" stroke-linejoin="round" />
<path d="M508.40,21.74 L509.60,22.85 L510.97,24.05 L512.57,25.38 L513.76,26.39 L515.09,27.85 L516.54,29.08 L518.32,29.45 L520.45,30.59 L522.56,31.76 L524.33,32.31 L526.37,33.30 L527.87,34.47 L529.49,35.96 L531.30,36.89 L533.42,38.40 L535.04,39.32 L536.78,40.41 L538.51,40.97 L539.77,41.73 L541.45,42.65 L543.38,43.90 L544.59,44.77 L546.97,45.14 L549.14,46.24 L551.05,47.09 L552.92,47.27 L555.00,48.48 L556.27,49.27 L558.32,49.96 L559.74,51.05 L561.90,51.72 L563.20,52.54 L565.15,53.36 L567.31,53.84 L569.42,54.79 L570.75,55.24 L572.91,56.21 L574.76,57.39 L576.17,58.10 L577.90,58.78 L579.66,59.78 L581.41,60.68 L583.32,61.12 L584.45,62.34 L585.78,63.61 L587.65,65.13 L588.46,66.07 L589.98,67.80 L591.52,68.71 L593.19,69.80 L594.45,71.28 L596.60,72.46 L598.03,73.74 L600.10,74.77 L600.87,76.33 L602.14,77.50 L603.22,79.31 L604.37,80.38 L606.14,81.91 L607.45,83.71 L608.50,85.00 L609.54,86.47 L611.13,88.34 L612.14,89.76 L613.95,91.31 L614.97,92.70 L616.46,93.54 L618.10,95.20 L619.50,96.27 L620.55,97.71 L622.10,99.30 L623.04,101.08 L623.91,103.13 L625.93,102.38 L628.13,101.91 L629.60,101.18 L633.49,101.96 L634.27,103.89 L635.58,105.93 L636.71,108.07 L637.92,109.40 L638.35,111.13 L639.12,112.87 L639.43,114.43 L640.15,116.44 L641.27,118.39 L641.76,120.05 L642.76,122.35 L643.45,123.69 L644.76,125.37 L645.66,127.30 L647.08,128.55 L647.87,130.63 L649.28,132.68 L650.68,134.72 L651.42,137.08 L651.79,138.64 L652.24,140.63 L653.07,142.62 L653.71,144.63 L654.11,147.32 L654.58,149.52 L655.38,151.49 L656.38,153.21 L657.12,155.35 L657.44,157.64 L660.53,158.72 L660.73,160.35 L661.09,161.88 L661.55,164.06 L662.04,166.06 L662.52,167.86 L662.39,169.46 L662.87,171.70 L662.57,173.30 L663.03,175.36 L663.15,176.97 L663.27,179.00 L663.08,180.66 L663.01,182.53 L663.16,184.75 L664.37,182.58 L665.55,180.45 L665.83,182.08 L666.79,183.50 L667.65,185.31" fill="none" stroke="#BC3C29" stroke-width="1.0" stroke-linejoin="round" />
<path d="M508.40,175.30 L671.95,175.30" fill="none" stroke="#e02828" stroke-width="1.2" stroke-dasharray="1.3,1.5" stroke-linejoin="round" />
<path d="M508.40,21.74 L510.86,23.40 L513.32,25.11 L515.78,26.88 L518.25,28.70 L520.71,30.58 L523.17,32.52 L525.63,34.53 L528.09,36.60 L530.55,38.75 L533.01,40.97 L535.48,43.27 L537.94,45.65 L540.40,48.12 L542.86,50.69 L545.32,53.35 L547.78,56.12 L550.25,59.00 L552.71,61.99 L555.17,65.11 L557.63,68.36 L560.09,71.76 L562.55,75.30 L565.01,79.00 L567.48,82.88 L569.94,86.94 L572.40,91.20 L574.86,95.67 L577.32,100.37 L579.78,105.31 L582.24,110.52 L584.71,116.02 L587.17,121.83 L589.63,127.99 L592.09,134.51 L594.55,141.45 L597.01,148.82 L599.47,156.69 L601.94,165.10 L604.40,174.11 L606.86,183.78" fill="none" stroke="#111" stroke-width="1.35" stroke-dasharray="3.2,1.6" stroke-linejoin="round" />
<path d="M636.00,16.00 L647.20,16.00" fill="none" stroke="#BC3C29" stroke-width="1.15" stroke-linejoin="round" />
<text x="651.40" y="16.20" font-size="5.4" text-anchor="start" dominant-baseline="central" fill="#222" font-family="&quot;Liberation Serif&quot;, serif" stroke="#222" stroke-width="0.14">XGBoost</text>
<path d="M636.00,23.65 L647.20,23.65" fill="none" stroke="#0072B5" stroke-width="1.15" stroke-linejoin="round" />
<text x="651.40" y="23.85" font-size="5.4" text-anchor="start" dominant-baseline="central" fill="#222" font-family="&quot;Liberation Serif&quot;, serif" stroke="#222" stroke-width="0.14">LR</text>
<path d="M636.00,31.30 L647.20,31.30" fill="none" stroke="#E18727" stroke-width="1.15" stroke-linejoin="round" />
<text x="651.40" y="31.50" font-size="5.4" text-anchor="start" dominant-baseline="central" fill="#222" font-family="&quot;Liberation Serif&quot;, serif" stroke="#222" stroke-width="0.14">LightGBM</text>
<path d="M636.00,38.95 L647.20,38.95" fill="none" stroke="#20854E" stroke-width="1.15" stroke-linejoin="round" />
<text x="651.40" y="39.15" font-size="5.4" text-anchor="start" dominant-baseline="central" fill="#222" font-family="&quot;Liberation Serif&quot;, serif" stroke="#222" stroke-width="0.14">AdaBoost</text>
<path d="M636.00,46.60 L647.20,46.60" fill="none" stroke="#7876B1" stroke-width="1.15" stroke-linejoin="round" />
<text x="651.40" y="46.80" font-size="5.4" text-anchor="start" dominant-baseline="central" fill="#222" font-family="&quot;Liberation Serif&quot;, serif" stroke="#222" stroke-width="0.14">GNB</text>
<path d="M636.00,54.25 L647.20,54.25" fill="none" stroke="#6F99AD" stroke-width="1.15" stroke-linejoin="round" />
<text x="651.40" y="54.45" font-size="5.4" text-anchor="start" dominant-baseline="central" fill="#222" font-family="&quot;Liberation Serif&quot;, serif" stroke="#222" stroke-width="0.14">MLP</text>
<path d="M636.00,61.90 L647.20,61.90" fill="none" stroke="#FFDC91" stroke-width="1.15" stroke-linejoin="round" />
<text x="651.40" y="62.10" font-size="5.4" text-anchor="start" dominant-baseline="central" fill="#222" font-family="&quot;Liberation Serif&quot;, serif" stroke="#222" stroke-width="0.14">SVM</text>
<path d="M636.00,69.55 L647.20,69.55" fill="none" stroke="#e03030" stroke-width="1.0" stroke-dasharray="1.2,1.6" stroke-linejoin="round" />
<text x="651.40" y="69.75" font-size="5.4" text-anchor="start" dominant-baseline="central" fill="#222" font-family="&quot;Liberation Serif&quot;, serif" stroke="#222" stroke-width="0.14">Treat None</text>
<path d="M636.00,77.20 L647.20,77.20" fill="none" stroke="#111" stroke-width="1.2" stroke-dasharray="3,1.8" stroke-linejoin="round" />
<text x="651.40" y="77.40" font-size="5.4" text-anchor="start" dominant-baseline="central" fill="#222" font-family="&quot;Liberation Serif&quot;, serif" stroke="#222" stroke-width="0.14">Treat All</text>
<rect x="496.40" y="221.30" width="181.70" height="179.90" fill="none" stroke="#d4d4d4" stroke-width="1.0"/>
<text x="583.00" y="216.80" font-size="7.5" text-anchor="middle" dominant-baseline="central" fill="#1a1a1a" font-family="&quot;Liberation Serif&quot;, serif" stroke="#1a1a1a" stroke-width="0.16">Calibration Curve</text>
<text x="505.50" y="409.00" font-size="7.6" text-anchor="middle" dominant-baseline="central" fill="#1a1a1a" font-family="&quot;Liberation Serif&quot;, serif" stroke="#1a1a1a" stroke-width="0.14">0.0</text>
<text x="494.80" y="395.60" font-size="7.6" text-anchor="end" dominant-baseline="central" fill="#1a1a1a" font-family="&quot;Liberation Serif&quot;, serif" stroke="#1a1a1a" stroke-width="0.14">0.0</text>
<text x="538.60" y="409.00" font-size="7.6" text-anchor="middle" dominant-baseline="central" fill="#1a1a1a" font-family="&quot;Liberation Serif&quot;, serif" stroke="#1a1a1a" stroke-width="0.14">0.2</text>
<text x="494.80" y="362.68" font-size="7.6" text-anchor="end" dominant-baseline="central" fill="#1a1a1a" font-family="&quot;Liberation Serif&quot;, serif" stroke="#1a1a1a" stroke-width="0.14">0.2</text>
<text x="571.70" y="409.00" font-size="7.6" text-anchor="middle" dominant-baseline="central" fill="#1a1a1a" font-family="&quot;Liberation Serif&quot;, serif" stroke="#1a1a1a" stroke-width="0.14">0.4</text>
<text x="494.80" y="329.76" font-size="7.6" text-anchor="end" dominant-baseline="central" fill="#1a1a1a" font-family="&quot;Liberation Serif&quot;, serif" stroke="#1a1a1a" stroke-width="0.14">0.4</text>
<text x="604.80" y="409.00" font-size="7.6" text-anchor="middle" dominant-baseline="central" fill="#1a1a1a" font-family="&quot;Liberation Serif&quot;, serif" stroke="#1a1a1a" stroke-width="0.14">0.6</text>
<text x="494.80" y="296.84" font-size="7.6" text-anchor="end" dominant-baseline="central" fill="#1a1a1a" font-family="&quot;Liberation Serif&quot;, serif" stroke="#1a1a1a" stroke-width="0.14">0.6</text>
<text x="637.90" y="409.00" font-size="7.6" text-anchor="middle" dominant-baseline="central" fill="#1a1a1a" font-family="&quot;Liberation Serif&quot;, serif" stroke="#1a1a1a" stroke-width="0.14">0.8</text>
<text x="494.80" y="263.92" font-size="7.6" text-anchor="end" dominant-baseline="central" fill="#1a1a1a" font-family="&quot;Liberation Serif&quot;, serif" stroke="#1a1a1a" stroke-width="0.14">0.8</text>
<text x="671.00" y="409.00" font-size="7.6" text-anchor="middle" dominant-baseline="central" fill="#1a1a1a" font-family="&quot;Liberation Serif&quot;, serif" stroke="#1a1a1a" stroke-width="0.14">1.0</text>
<text x="494.80" y="231.00" font-size="7.6" text-anchor="end" dominant-baseline="central" fill="#1a1a1a" font-family="&quot;Liberation Serif&quot;, serif" stroke="#1a1a1a" stroke-width="0.14">1.0</text>
<text x="594.00" y="416.30" font-size="7.58" text-anchor="middle" dominant-baseline="central" fill="#1a1a1a" font-family="&quot;Liberation Serif&quot;, serif" stroke="#1a1a1a" stroke-width="0.16">Mean predicted value</text>
<text x="481.30" y="305.30" font-size="7.6" text-anchor="middle" dominant-baseline="central" fill="#1a1a1a" font-family="&quot;Liberation Serif&quot;, serif" transform="rotate(-90 481.30 305.30)" stroke="#1a1a1a" stroke-width="0.16">Fraction of positives</text>
<path d="M504.20,393.70 L668.80,229.90" fill="none" stroke="#222" stroke-width="1.1" stroke-dasharray="1.2,1.6" stroke-linejoin="round" />
<path d="M505.30,332.30 L515.24,327.36 L529.52,320.28 L545.37,312.37 L560.00,305.00 L573.34,298.21 L586.66,291.39 L599.15,284.88 L610.00,279.00 L618.91,273.91 L626.34,269.41 L632.63,265.30 L638.10,261.40 L642.47,257.85 L645.68,254.68 L648.43,251.55 L651.40,248.10 L655.02,243.81 L658.83,239.02 L662.23,234.64 L664.60,231.60" fill="none" stroke="#E18727" stroke-width="1.25" stroke-linejoin="round" />
<path d="M511.30,350.20 L520.25,345.26 L533.15,338.16 L547.30,330.28 L560.00,323.00 L570.93,316.45 L581.38,309.99 L591.15,303.78 L600.00,298.00 L607.83,292.76 L614.77,287.94 L620.97,283.40 L626.60,279.00 L631.51,274.82 L635.68,270.91 L639.44,267.04 L643.10,263.00 L646.71,258.74 L650.11,254.38 L653.33,249.95 L656.40,245.50 L659.51,240.61 L662.58,235.41 L665.24,230.75 L667.10,227.50" fill="none" stroke="#7876B1" stroke-width="1.25" stroke-linejoin="round" />
<path d="M518.00,388.00 L521.85,384.37 L527.34,379.19 L533.67,373.16 L540.00,367.00 L546.61,360.44 L553.78,353.25 L560.68,346.19 L566.50,340.00 L570.64,335.21 L573.66,331.31 L576.47,327.51 L580.00,323.00 L584.68,317.35 L589.96,311.06 L595.26,304.74 L600.00,299.00 L603.81,294.35 L607.06,290.34 L610.34,286.17 L614.20,281.00 L619.05,274.44 L624.51,266.99 L629.96,259.17 L634.80,251.50 L639.11,243.37 L643.14,234.76 L646.52,227.06 L648.90,221.70" fill="none" stroke="#FFDC91" stroke-width="1.25" stroke-linejoin="round" />
<path d="M515.50,390.30 L519.81,386.22 L525.98,380.40 L533.03,373.70 L540.00,367.00 L547.22,359.98 L555.01,352.36 L562.39,345.06 L568.40,339.00 L572.28,334.93 L574.72,332.19 L576.90,329.60 L580.00,326.00 L584.43,320.93 L589.54,315.06 L594.87,308.91 L600.00,303.00 L604.82,297.49 L609.56,292.10 L614.27,286.66 L619.00,281.00 L623.85,275.27 L628.75,269.49 L633.55,263.32 L638.10,256.40 L642.65,247.62 L647.19,237.51 L651.14,228.17 L653.90,221.70" fill="none" stroke="#0072B5" stroke-width="1.25" stroke-linejoin="round" />
<path d="M513.60,384.30 L518.25,380.36 L524.91,374.71 L532.51,368.29 L540.00,362.00 L547.76,355.56 L556.14,348.67 L564.00,342.19 L570.20,337.00 L573.85,333.91 L575.74,332.25 L577.31,330.72 L580.00,328.00 L584.28,323.59 L589.36,318.25 L594.76,312.53 L600.00,307.00 L605.20,301.56 L610.53,296.00 L615.60,290.69 L620.00,286.00 L623.43,282.35 L626.17,279.43 L628.70,276.55 L631.50,273.00 L634.66,268.78 L637.94,264.20 L641.32,259.05 L644.80,253.10 L648.76,245.32 L653.08,236.16 L656.99,227.61 L659.70,221.70" fill="none" stroke="#BC3C29" stroke-width="1.25" stroke-linejoin="round" />
<path d="M558.60,385.20 L562.12,376.96 L567.17,365.10 L572.75,351.99 L577.80,340.00 L582.11,329.65 L586.21,319.71 L590.21,309.91 L594.20,300.00 L598.27,289.85 L602.34,279.62 L606.29,269.46 L610.00,259.50 L613.67,248.93 L617.29,237.97 L620.41,228.27 L622.60,221.50" fill="none" stroke="#20854E" stroke-width="1.25" stroke-linejoin="round" />
<path d="M604.50,229.50 L601.00,311.20" fill="none" stroke="#6F99AD" stroke-width="1.2" stroke-linejoin="round" />
<rect x="602.90" y="227.90" width="3.2" height="3.2" fill="#6F99AD"/>
<rect x="599.40" y="309.60" width="3.2" height="3.2" fill="#6F99AD"/>
<path d="M569.50,339.80 L580.80,339.80" fill="none" stroke="#222" stroke-width="1.1" stroke-dasharray="1.2,1.6" stroke-linejoin="round" />
<text x="585.00" y="340.00" font-size="5.43" text-anchor="start" dominant-baseline="central" fill="#222" font-family="&quot;Liberation Serif&quot;, serif" stroke="#222" stroke-width="0.14">Perfectly Calibrated</text>
<path d="M569.50,347.50 L580.80,347.50" fill="none" stroke="#BC3C29" stroke-width="1.35" stroke-linejoin="round" />
<text x="585.00" y="347.70" font-size="5.43" text-anchor="start" dominant-baseline="central" fill="#222" font-family="&quot;Liberation Serif&quot;, serif" stroke="#222" stroke-width="0.14">XGBoost (0.131 95%CI(0.112-0.150))</text>
<path d="M569.50,355.20 L580.80,355.20" fill="none" stroke="#0072B5" stroke-width="1.35" stroke-linejoin="round" />
<text x="585.00" y="355.40" font-size="5.43" text-anchor="start" dominant-baseline="central" fill="#222" font-family="&quot;Liberation Serif&quot;, serif" stroke="#222" stroke-width="0.14">LR (0.181 95%CI(0.168-0.195))</text>
<path d="M569.50,362.90 L580.80,362.90" fill="none" stroke="#E18727" stroke-width="1.35" stroke-linejoin="round" />
<text x="585.00" y="363.10" font-size="5.43" text-anchor="start" dominant-baseline="central" fill="#222" font-family="&quot;Liberation Serif&quot;, serif" stroke="#222" stroke-width="0.14">LightGBM (0.261 95%CI(0.218-0.303))</text>
<path d="M569.50,370.60 L580.80,370.60" fill="none" stroke="#20854E" stroke-width="1.35" stroke-linejoin="round" />
<text x="585.00" y="370.80" font-size="5.43" text-anchor="start" dominant-baseline="central" fill="#222" font-family="&quot;Liberation Serif&quot;, serif" stroke="#222" stroke-width="0.14">AdaBoost (0.231 95%CI(0.228-0.233))</text>
<path d="M569.50,378.30 L580.80,378.30" fill="none" stroke="#7876B1" stroke-width="1.35" stroke-linejoin="round" />
<text x="585.00" y="378.50" font-size="5.43" text-anchor="start" dominant-baseline="central" fill="#222" font-family="&quot;Liberation Serif&quot;, serif" stroke="#222" stroke-width="0.14">GNB (0.225 95%CI(0.203-0.247))</text>
<path d="M569.50,386.00 L580.80,386.00" fill="none" stroke="#6F99AD" stroke-width="1.35" stroke-linejoin="round" />
<rect x="573.6" y="384.40" width="3.2" height="3.2" fill="#6F99AD"/>
<text x="585.00" y="386.20" font-size="5.43" text-anchor="start" dominant-baseline="central" fill="#222" font-family="&quot;Liberation Serif&quot;, serif" stroke="#222" stroke-width="0.14">MLP (0.240 95%CI(0.238-0.242))</text>
<path d="M569.50,393.70 L580.80,393.70" fill="none" stroke="#FFDC91" stroke-width="1.35" stroke-linejoin="round" />
<text x="585.00" y="393.90" font-size="5.43" text-anchor="start" dominant-baseline="central" fill="#222" font-family="&quot;Liberation Serif&quot;, serif" stroke="#222" stroke-width="0.14">SVM (0.170 95%CI(0.156-0.183))</text>
</svg></body></html>
